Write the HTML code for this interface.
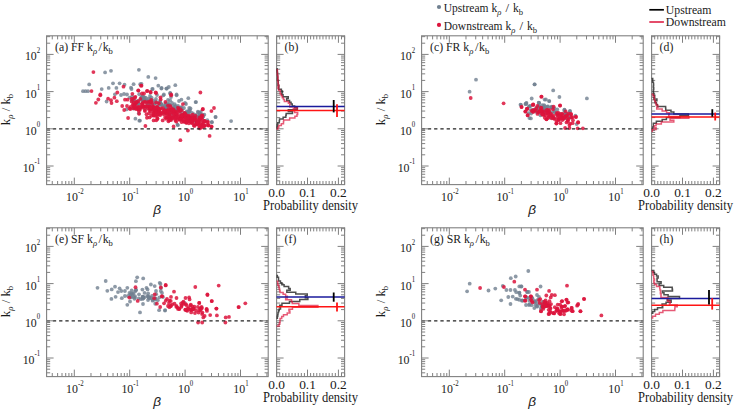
<!DOCTYPE html><html><head><meta charset="utf-8"><style>html,body{margin:0;padding:0;background:#fff;}svg{display:block} text{stroke:none}</style></head><body><svg width="735" height="410" viewBox="0 0 735 410" font-family="'Liberation Serif', serif" fill="#1a1a1a">
<rect width="735" height="410" fill="#fff"/>
<g fill="#708090" fill-opacity="0.8"><circle cx="105.1" cy="72.4" r="1.9"/><circle cx="111" cy="70.8" r="1.9"/><circle cx="138.9" cy="69.8" r="1.9"/><circle cx="89.2" cy="84.4" r="1.9"/><circle cx="113" cy="83.3" r="1.9"/><circle cx="119.6" cy="83.3" r="1.9"/><circle cx="124.5" cy="84.7" r="1.9"/><circle cx="133.6" cy="84.2" r="1.9"/><circle cx="140.2" cy="84.2" r="1.9"/><circle cx="101.7" cy="89.1" r="1.9"/><circle cx="108.7" cy="87.9" r="1.9"/><circle cx="116.4" cy="87.9" r="1.9"/><circle cx="131" cy="87.7" r="1.9"/><circle cx="83" cy="91.2" r="1.9"/><circle cx="85.5" cy="91.2" r="1.9"/><circle cx="88" cy="91.2" r="1.9"/><circle cx="114.9" cy="94.3" r="1.9"/><circle cx="121" cy="95" r="1.9"/><circle cx="124" cy="94" r="1.9"/><circle cx="127" cy="94.5" r="1.9"/><circle cx="131.5" cy="89" r="1.9"/><circle cx="106.6" cy="101.5" r="1.9"/><circle cx="126.6" cy="109.4" r="1.9"/><circle cx="133.9" cy="108.5" r="1.9"/><circle cx="138.8" cy="113.3" r="1.9"/><circle cx="135.4" cy="118.7" r="1.9"/><circle cx="139.3" cy="120.7" r="1.9"/><circle cx="148.3" cy="76.9" r="1.9"/><circle cx="155.6" cy="78.1" r="1.9"/><circle cx="141.5" cy="83.8" r="1.9"/><circle cx="158.3" cy="85.7" r="1.9"/><circle cx="161.6" cy="88" r="1.9"/><circle cx="166.3" cy="88.6" r="1.9"/><circle cx="168.8" cy="87" r="1.9"/><circle cx="175.3" cy="85.2" r="1.9"/><circle cx="152.2" cy="89.1" r="1.9"/><circle cx="163.9" cy="94.5" r="1.9"/><circle cx="170.2" cy="93" r="1.9"/><circle cx="176.6" cy="94.5" r="1.9"/><circle cx="176.6" cy="95.3" r="1.9"/><circle cx="181.4" cy="99.7" r="1.9"/><circle cx="188.3" cy="98.2" r="1.9"/><circle cx="195.6" cy="102.1" r="1.9"/><circle cx="163.4" cy="95.3" r="1.9"/><circle cx="170.2" cy="93.4" r="1.9"/><circle cx="152.7" cy="89" r="1.9"/><circle cx="161.4" cy="88.5" r="1.9"/><circle cx="166.8" cy="88.5" r="1.9"/><circle cx="141.5" cy="96.8" r="1.9"/><circle cx="199.5" cy="112.9" r="1.9"/><circle cx="202.9" cy="116.3" r="1.9"/><circle cx="177.5" cy="124.6" r="1.9"/><circle cx="207.3" cy="120.2" r="1.9"/><circle cx="196" cy="102.1" r="1.9"/><circle cx="199.7" cy="112.9" r="1.9"/><circle cx="202.6" cy="117.2" r="1.9"/><circle cx="215.5" cy="117.1" r="1.9"/><circle cx="231.1" cy="121.1" r="1.9"/><circle cx="211.8" cy="122.1" r="1.9"/><circle cx="177.9" cy="125.2" r="1.9"/><circle cx="211.9" cy="122.2" r="1.9"/><circle cx="215.6" cy="116.9" r="1.9"/><circle cx="202.2" cy="116.9" r="1.9"/><circle cx="140" cy="120.6" r="1.9"/><circle cx="146" cy="98" r="1.9"/><circle cx="150" cy="96" r="1.9"/><circle cx="156" cy="99" r="1.9"/><circle cx="160" cy="101" r="1.9"/><circle cx="168" cy="100" r="1.9"/><circle cx="172" cy="103" r="1.9"/><circle cx="178" cy="106" r="1.9"/><circle cx="184" cy="108" r="1.9"/><circle cx="190" cy="110" r="1.9"/><circle cx="186" cy="104" r="1.9"/><circle cx="179" cy="101" r="1.9"/><circle cx="192" cy="113" r="1.9"/><circle cx="171" cy="97" r="1.9"/><circle cx="157" cy="95" r="1.9"/><circle cx="185" cy="103" r="1.9"/><circle cx="138.8" cy="104.09" r="1.9"/><circle cx="150.24" cy="99.11" r="1.9"/><circle cx="177.52" cy="110" r="1.9"/><circle cx="132.19" cy="100.83" r="1.9"/><circle cx="186.25" cy="115.5" r="1.9"/><circle cx="188.11" cy="112.01" r="1.9"/><circle cx="196.13" cy="114.8" r="1.9"/><circle cx="169.84" cy="111.18" r="1.9"/><circle cx="147.67" cy="101.7" r="1.9"/><circle cx="148.69" cy="98.77" r="1.9"/><circle cx="150.01" cy="102.99" r="1.9"/><circle cx="165.16" cy="106.12" r="1.9"/><circle cx="190.54" cy="108.48" r="1.9"/><circle cx="145.07" cy="108.45" r="1.9"/><circle cx="143.39" cy="98.55" r="1.9"/><circle cx="181.79" cy="114.21" r="1.9"/><circle cx="189.52" cy="111.43" r="1.9"/><circle cx="171.24" cy="113.95" r="1.9"/><circle cx="167.72" cy="106.18" r="1.9"/><circle cx="147.32" cy="103.92" r="1.9"/><circle cx="143.39" cy="96.95" r="1.9"/><circle cx="181.53" cy="107.17" r="1.9"/><circle cx="165.84" cy="107.94" r="1.9"/><circle cx="160.06" cy="104.34" r="1.9"/><circle cx="129.63" cy="97.54" r="1.9"/><circle cx="175" cy="106.72" r="1.9"/><circle cx="167.4" cy="113.59" r="1.9"/><circle cx="169.33" cy="109.42" r="1.9"/><circle cx="167.84" cy="112.06" r="1.9"/><circle cx="167.22" cy="105.73" r="1.9"/><circle cx="200.1" cy="119.81" r="1.9"/><circle cx="188.18" cy="116.86" r="1.9"/><circle cx="189.23" cy="107.98" r="1.9"/><circle cx="163.76" cy="112.96" r="1.9"/><circle cx="174.85" cy="109.57" r="1.9"/><circle cx="168" cy="104.52" r="1.9"/><circle cx="168.44" cy="103.77" r="1.9"/><circle cx="164.9" cy="109.01" r="1.9"/><circle cx="142.62" cy="96.25" r="1.9"/><circle cx="185.26" cy="114.11" r="1.9"/><circle cx="147.69" cy="105.98" r="1.9"/><circle cx="137.97" cy="100.79" r="1.9"/><circle cx="186.71" cy="111.44" r="1.9"/><circle cx="177.11" cy="108.32" r="1.9"/><circle cx="143.17" cy="99.64" r="1.9"/><circle cx="149.31" cy="102.37" r="1.9"/><circle cx="155.02" cy="103.32" r="1.9"/><circle cx="160.16" cy="103.02" r="1.9"/><circle cx="138.35" cy="103.54" r="1.9"/><circle cx="144.63" cy="97.39" r="1.9"/><circle cx="133.61" cy="100.73" r="1.9"/><circle cx="185.78" cy="113.86" r="1.9"/><circle cx="179.87" cy="107.54" r="1.9"/><circle cx="198.97" cy="116.45" r="1.9"/><circle cx="146.3" cy="100.47" r="1.9"/><circle cx="175.56" cy="105.9" r="1.9"/><circle cx="141.19" cy="97.82" r="1.9"/><circle cx="197.93" cy="111.53" r="1.9"/><circle cx="152.89" cy="109.54" r="1.9"/><circle cx="161.92" cy="105.62" r="1.9"/><circle cx="195.32" cy="119.26" r="1.9"/><circle cx="199.81" cy="113.84" r="1.9"/><circle cx="193.16" cy="118.36" r="1.9"/><circle cx="169.54" cy="104.53" r="1.9"/><circle cx="144.77" cy="100.61" r="1.9"/><circle cx="147.64" cy="105.97" r="1.9"/><circle cx="153.1" cy="100.46" r="1.9"/><circle cx="193.72" cy="114.07" r="1.9"/><circle cx="151.52" cy="97.54" r="1.9"/><circle cx="188.84" cy="110.59" r="1.9"/><circle cx="176.05" cy="114.53" r="1.9"/><circle cx="154.45" cy="108.63" r="1.9"/><circle cx="166.39" cy="109.52" r="1.9"/><circle cx="184.23" cy="112.83" r="1.9"/><circle cx="200" cy="115.45" r="1.9"/><circle cx="173.13" cy="110.67" r="1.9"/><circle cx="160.14" cy="102.51" r="1.9"/><circle cx="173.82" cy="116.4" r="1.9"/><circle cx="141.35" cy="99.79" r="1.9"/><circle cx="136.57" cy="104.27" r="1.9"/><circle cx="186.44" cy="113.57" r="1.9"/><circle cx="173.89" cy="109.69" r="1.9"/><circle cx="173.47" cy="108.43" r="1.9"/><circle cx="149.38" cy="106.83" r="1.9"/><circle cx="198.14" cy="112.4" r="1.9"/><circle cx="187.69" cy="112.26" r="1.9"/><circle cx="180.25" cy="111.48" r="1.9"/><circle cx="195.26" cy="116.02" r="1.9"/><circle cx="202.64" cy="114.7" r="1.9"/><circle cx="147.23" cy="101.94" r="1.9"/><circle cx="138.29" cy="103.01" r="1.9"/><circle cx="200" cy="117.24" r="1.9"/><circle cx="150.19" cy="101.38" r="1.9"/><circle cx="178.48" cy="110.13" r="1.9"/><circle cx="204.36" cy="114.72" r="1.9"/><circle cx="164.72" cy="105.63" r="1.9"/><circle cx="195.89" cy="121.88" r="1.9"/><circle cx="142.65" cy="101.65" r="1.9"/><circle cx="200.77" cy="111.92" r="1.9"/><circle cx="181.6" cy="109.51" r="1.9"/><circle cx="154.73" cy="103.91" r="1.9"/><circle cx="151.79" cy="107.39" r="1.9"/><circle cx="174.68" cy="104.06" r="1.9"/><circle cx="161.5" cy="104.05" r="1.9"/><circle cx="151.11" cy="108.48" r="1.9"/><circle cx="155.75" cy="101.49" r="1.9"/><circle cx="172.39" cy="105.93" r="1.9"/><circle cx="134.23" cy="99.36" r="1.9"/><circle cx="171.61" cy="109.2" r="1.9"/><circle cx="180.66" cy="107.61" r="1.9"/><circle cx="166.27" cy="108.31" r="1.9"/><circle cx="166.96" cy="107.42" r="1.9"/><circle cx="202.48" cy="117.2" r="1.9"/><circle cx="200.35" cy="116.66" r="1.9"/><circle cx="139.21" cy="94.19" r="1.9"/><circle cx="152.23" cy="105.24" r="1.9"/><circle cx="197.03" cy="116.8" r="1.9"/><circle cx="192.05" cy="116.31" r="1.9"/><circle cx="188.7" cy="112.88" r="1.9"/><circle cx="145.18" cy="100.09" r="1.9"/><circle cx="181.53" cy="109.33" r="1.9"/><circle cx="135.76" cy="104.81" r="1.9"/><circle cx="170.13" cy="100.46" r="1.9"/><circle cx="165.41" cy="103.47" r="1.9"/><circle cx="150.83" cy="108.23" r="1.9"/><circle cx="161.39" cy="104.41" r="1.9"/><circle cx="158.09" cy="105.88" r="1.9"/><circle cx="148.7" cy="104.83" r="1.9"/><circle cx="159.64" cy="103.3" r="1.9"/><circle cx="132.11" cy="96.29" r="1.9"/></g>
<g fill="#DC143C" fill-opacity="0.85"><circle cx="93.4" cy="72.1" r="1.9"/><circle cx="123.5" cy="86.7" r="1.9"/><circle cx="138.3" cy="90.6" r="1.9"/><circle cx="141" cy="85.7" r="1.9"/><circle cx="91.5" cy="91.1" r="1.9"/><circle cx="117.3" cy="92.5" r="1.9"/><circle cx="100.3" cy="94.5" r="1.9"/><circle cx="100.3" cy="95.3" r="1.9"/><circle cx="98.3" cy="99.5" r="1.9"/><circle cx="95.9" cy="102.8" r="1.9"/><circle cx="108.1" cy="98.7" r="1.9"/><circle cx="111" cy="100.2" r="1.9"/><circle cx="114.4" cy="97.7" r="1.9"/><circle cx="111.5" cy="103.1" r="1.9"/><circle cx="116.8" cy="101.2" r="1.9"/><circle cx="125" cy="99.7" r="1.9"/><circle cx="127.6" cy="99.7" r="1.9"/><circle cx="132.4" cy="93.8" r="1.9"/><circle cx="135.4" cy="96.8" r="1.9"/><circle cx="122.2" cy="106" r="1.9"/><circle cx="127" cy="106" r="1.9"/><circle cx="129.5" cy="108.5" r="1.9"/><circle cx="124.2" cy="110" r="1.9"/><circle cx="138.8" cy="110.9" r="1.9"/><circle cx="128.1" cy="118" r="1.9"/><circle cx="141.5" cy="85.7" r="1.9"/><circle cx="147" cy="91.1" r="1.9"/><circle cx="150.5" cy="92" r="1.9"/><circle cx="156.1" cy="93" r="1.9"/><circle cx="200.4" cy="92.5" r="1.9"/><circle cx="142" cy="93.5" r="1.9"/><circle cx="144" cy="93.5" r="1.9"/><circle cx="171.2" cy="94.5" r="1.9"/><circle cx="202.9" cy="109" r="1.9"/><circle cx="182.9" cy="104.1" r="1.9"/><circle cx="145.4" cy="126" r="1.9"/><circle cx="157.5" cy="118.7" r="1.9"/><circle cx="153.6" cy="115.3" r="1.9"/><circle cx="147.3" cy="90.9" r="1.9"/><circle cx="150.7" cy="92.4" r="1.9"/><circle cx="155.6" cy="92.4" r="1.9"/><circle cx="171.2" cy="95.3" r="1.9"/><circle cx="160.5" cy="97.3" r="1.9"/><circle cx="194.6" cy="124.6" r="1.9"/><circle cx="200.4" cy="126" r="1.9"/><circle cx="204.3" cy="121.1" r="1.9"/><circle cx="207.3" cy="125" r="1.9"/><circle cx="202.6" cy="109.4" r="1.9"/><circle cx="214" cy="108" r="1.9"/><circle cx="211.4" cy="111.1" r="1.9"/><circle cx="201.8" cy="115.3" r="1.9"/><circle cx="204.7" cy="121.1" r="1.9"/><circle cx="207.7" cy="122.1" r="1.9"/><circle cx="204.6" cy="125.5" r="1.9"/><circle cx="208.6" cy="125" r="1.9"/><circle cx="211.6" cy="126.5" r="1.9"/><circle cx="199.4" cy="127.5" r="1.9"/><circle cx="157.4" cy="118.7" r="1.9"/><circle cx="153.7" cy="115.6" r="1.9"/><circle cx="173.6" cy="126.4" r="1.9"/><circle cx="187.9" cy="130.5" r="1.9"/><circle cx="180.4" cy="140.2" r="1.9"/><circle cx="209.6" cy="135.9" r="1.9"/><circle cx="199.9" cy="128.4" r="1.9"/><circle cx="194.5" cy="125.9" r="1.9"/><circle cx="204.4" cy="125.9" r="1.9"/><circle cx="208.4" cy="125.6" r="1.9"/><circle cx="211.5" cy="126.8" r="1.9"/><circle cx="204.6" cy="121.2" r="1.9"/><circle cx="207.8" cy="121.8" r="1.9"/><circle cx="138.3" cy="90.4" r="1.9"/><circle cx="133" cy="99" r="1.9"/><circle cx="136" cy="102" r="1.9"/><circle cx="178.53" cy="110.27" r="1.9"/><circle cx="185.71" cy="117.54" r="1.9"/><circle cx="167.06" cy="113" r="1.9"/><circle cx="168.48" cy="121.34" r="1.9"/><circle cx="149.63" cy="108.01" r="1.9"/><circle cx="134.92" cy="97.76" r="1.9"/><circle cx="137.51" cy="107.78" r="1.9"/><circle cx="149.18" cy="106.52" r="1.9"/><circle cx="154.09" cy="108.31" r="1.9"/><circle cx="170.09" cy="119.77" r="1.9"/><circle cx="199.54" cy="119.73" r="1.9"/><circle cx="150.86" cy="109.51" r="1.9"/><circle cx="186.26" cy="122.74" r="1.9"/><circle cx="184.3" cy="114.45" r="1.9"/><circle cx="141.45" cy="106.85" r="1.9"/><circle cx="198.99" cy="123.07" r="1.9"/><circle cx="146.93" cy="117.76" r="1.9"/><circle cx="136.36" cy="107.79" r="1.9"/><circle cx="176.1" cy="114.59" r="1.9"/><circle cx="197.1" cy="123.57" r="1.9"/><circle cx="189.05" cy="116.78" r="1.9"/><circle cx="156.94" cy="116.07" r="1.9"/><circle cx="201.87" cy="124.13" r="1.9"/><circle cx="161.02" cy="113.57" r="1.9"/><circle cx="147.97" cy="108.36" r="1.9"/><circle cx="144.02" cy="106.61" r="1.9"/><circle cx="173.49" cy="109.43" r="1.9"/><circle cx="147.53" cy="106.55" r="1.9"/><circle cx="149.2" cy="106.03" r="1.9"/><circle cx="176.38" cy="118.03" r="1.9"/><circle cx="200.41" cy="118.44" r="1.9"/><circle cx="189.84" cy="120.06" r="1.9"/><circle cx="158.99" cy="110.14" r="1.9"/><circle cx="191.15" cy="122.8" r="1.9"/><circle cx="169.11" cy="120.24" r="1.9"/><circle cx="202.84" cy="123.7" r="1.9"/><circle cx="174.03" cy="112.4" r="1.9"/><circle cx="156.1" cy="109.97" r="1.9"/><circle cx="162.9" cy="108.27" r="1.9"/><circle cx="156.28" cy="112.15" r="1.9"/><circle cx="164.44" cy="110.22" r="1.9"/><circle cx="144.93" cy="111.03" r="1.9"/><circle cx="171.15" cy="120.09" r="1.9"/><circle cx="167.18" cy="117.46" r="1.9"/><circle cx="192.67" cy="114.67" r="1.9"/><circle cx="203.24" cy="121.22" r="1.9"/><circle cx="174.92" cy="111.47" r="1.9"/><circle cx="131.61" cy="101.38" r="1.9"/><circle cx="157.64" cy="114.51" r="1.9"/><circle cx="181.56" cy="122.02" r="1.9"/><circle cx="163.17" cy="112.45" r="1.9"/><circle cx="175.88" cy="112.96" r="1.9"/><circle cx="172.45" cy="109.19" r="1.9"/><circle cx="184.28" cy="121.54" r="1.9"/><circle cx="188.33" cy="116.43" r="1.9"/><circle cx="145.42" cy="106.4" r="1.9"/><circle cx="172.87" cy="117.98" r="1.9"/><circle cx="165.56" cy="111.23" r="1.9"/><circle cx="165.21" cy="112.81" r="1.9"/><circle cx="155.67" cy="109.65" r="1.9"/><circle cx="166.06" cy="118.75" r="1.9"/><circle cx="156.9" cy="108.73" r="1.9"/><circle cx="149.28" cy="110.02" r="1.9"/><circle cx="151.39" cy="115.76" r="1.9"/><circle cx="170.01" cy="109.93" r="1.9"/><circle cx="186.3" cy="119.87" r="1.9"/><circle cx="180.61" cy="118.02" r="1.9"/><circle cx="177.08" cy="115.44" r="1.9"/><circle cx="138.69" cy="109.21" r="1.9"/><circle cx="159.2" cy="111.57" r="1.9"/><circle cx="181.17" cy="117.26" r="1.9"/><circle cx="194.41" cy="118.39" r="1.9"/><circle cx="158.1" cy="111.96" r="1.9"/><circle cx="143.01" cy="105.64" r="1.9"/><circle cx="202.56" cy="115.76" r="1.9"/><circle cx="182.18" cy="114.98" r="1.9"/><circle cx="169.33" cy="114.68" r="1.9"/><circle cx="184.79" cy="113.06" r="1.9"/><circle cx="144.46" cy="106.91" r="1.9"/><circle cx="153.6" cy="112.62" r="1.9"/><circle cx="166.76" cy="114.72" r="1.9"/><circle cx="131.63" cy="98.83" r="1.9"/><circle cx="146.5" cy="114.25" r="1.9"/><circle cx="188.83" cy="123.31" r="1.9"/><circle cx="154.21" cy="111.01" r="1.9"/><circle cx="181.7" cy="119.55" r="1.9"/><circle cx="167.04" cy="110.87" r="1.9"/><circle cx="144.92" cy="110.09" r="1.9"/><circle cx="175.45" cy="115.78" r="1.9"/><circle cx="151.73" cy="102.04" r="1.9"/><circle cx="203.61" cy="126.56" r="1.9"/><circle cx="194.35" cy="118.27" r="1.9"/><circle cx="171.41" cy="117.79" r="1.9"/><circle cx="193.06" cy="120.07" r="1.9"/><circle cx="196.78" cy="122.21" r="1.9"/><circle cx="179.22" cy="119.38" r="1.9"/><circle cx="140.37" cy="98.9" r="1.9"/><circle cx="196.28" cy="121.45" r="1.9"/><circle cx="191.75" cy="121.8" r="1.9"/><circle cx="138.82" cy="106.93" r="1.9"/><circle cx="173.51" cy="115.22" r="1.9"/><circle cx="189.99" cy="117.73" r="1.9"/><circle cx="175.54" cy="120.71" r="1.9"/><circle cx="149.5" cy="117.41" r="1.9"/><circle cx="175.35" cy="111.36" r="1.9"/><circle cx="170.84" cy="112.52" r="1.9"/><circle cx="156.55" cy="107.69" r="1.9"/><circle cx="195.57" cy="115.91" r="1.9"/><circle cx="178.88" cy="116.64" r="1.9"/><circle cx="190.36" cy="117.54" r="1.9"/><circle cx="139.1" cy="113.82" r="1.9"/><circle cx="192.45" cy="120.82" r="1.9"/><circle cx="189.68" cy="115.68" r="1.9"/><circle cx="202.49" cy="125.02" r="1.9"/><circle cx="163.89" cy="114.54" r="1.9"/><circle cx="181.35" cy="117.37" r="1.9"/><circle cx="170.27" cy="119.33" r="1.9"/><circle cx="136.68" cy="109.19" r="1.9"/><circle cx="184.44" cy="116.53" r="1.9"/><circle cx="184.28" cy="120.79" r="1.9"/><circle cx="152.91" cy="106.46" r="1.9"/><circle cx="172.31" cy="112.11" r="1.9"/><circle cx="186.45" cy="122.6" r="1.9"/><circle cx="135.85" cy="103.48" r="1.9"/><circle cx="198.4" cy="120.8" r="1.9"/><circle cx="180.24" cy="109.06" r="1.9"/><circle cx="191.79" cy="118.66" r="1.9"/><circle cx="156.99" cy="108.47" r="1.9"/><circle cx="155.01" cy="108.83" r="1.9"/><circle cx="188.03" cy="117.17" r="1.9"/><circle cx="153.24" cy="106.94" r="1.9"/><circle cx="184.6" cy="113.27" r="1.9"/><circle cx="139.94" cy="109.85" r="1.9"/><circle cx="156.31" cy="120.29" r="1.9"/><circle cx="162.7" cy="120.38" r="1.9"/><circle cx="196.61" cy="124.05" r="1.9"/><circle cx="196.29" cy="121.19" r="1.9"/><circle cx="165.42" cy="101.99" r="1.9"/><circle cx="184.02" cy="116.6" r="1.9"/><circle cx="155.45" cy="115.86" r="1.9"/><circle cx="160.71" cy="99.44" r="1.9"/><circle cx="169.88" cy="114.5" r="1.9"/><circle cx="178.49" cy="108.95" r="1.9"/><circle cx="145.19" cy="101.58" r="1.9"/><circle cx="135.12" cy="108.56" r="1.9"/><circle cx="150.4" cy="111.21" r="1.9"/><circle cx="176.03" cy="113.77" r="1.9"/><circle cx="133" cy="108.47" r="1.9"/><circle cx="142.33" cy="107.72" r="1.9"/><circle cx="154.37" cy="114.13" r="1.9"/><circle cx="149.05" cy="113.34" r="1.9"/><circle cx="191.83" cy="122.32" r="1.9"/><circle cx="177.99" cy="107.53" r="1.9"/><circle cx="184.6" cy="117.59" r="1.9"/><circle cx="204.21" cy="121.89" r="1.9"/><circle cx="182.11" cy="118.07" r="1.9"/><circle cx="167.98" cy="105.54" r="1.9"/><circle cx="187.8" cy="117.66" r="1.9"/><circle cx="192.43" cy="117.48" r="1.9"/><circle cx="151.7" cy="109.04" r="1.9"/><circle cx="142.71" cy="103.5" r="1.9"/><circle cx="184.04" cy="121.86" r="1.9"/><circle cx="171.02" cy="109.55" r="1.9"/><circle cx="165.12" cy="117.71" r="1.9"/><circle cx="158.65" cy="108.51" r="1.9"/><circle cx="151.98" cy="103.67" r="1.9"/><circle cx="170.02" cy="116.08" r="1.9"/><circle cx="176.38" cy="121.66" r="1.9"/><circle cx="172.84" cy="111.3" r="1.9"/><circle cx="196.53" cy="124.36" r="1.9"/><circle cx="193.83" cy="125.54" r="1.9"/><circle cx="158.86" cy="103.27" r="1.9"/><circle cx="154.99" cy="110.38" r="1.9"/><circle cx="154.9" cy="107.79" r="1.9"/><circle cx="156.14" cy="109.41" r="1.9"/><circle cx="146.5" cy="106.59" r="1.9"/><circle cx="179.86" cy="111.31" r="1.9"/><circle cx="148.57" cy="101.66" r="1.9"/><circle cx="181.87" cy="110.63" r="1.9"/><circle cx="163.26" cy="111.45" r="1.9"/><circle cx="200.06" cy="121.26" r="1.9"/><circle cx="139.14" cy="109.19" r="1.9"/><circle cx="134.19" cy="104.4" r="1.9"/><circle cx="201.39" cy="117.49" r="1.9"/><circle cx="192.33" cy="123" r="1.9"/><circle cx="201.93" cy="118.73" r="1.9"/><circle cx="153.62" cy="120.44" r="1.9"/><circle cx="136.85" cy="102.07" r="1.9"/><circle cx="180.1" cy="118.23" r="1.9"/><circle cx="150.84" cy="101.47" r="1.9"/><circle cx="189.66" cy="120.68" r="1.9"/><circle cx="138.26" cy="101.27" r="1.9"/><circle cx="151.31" cy="100.01" r="1.9"/><circle cx="137.72" cy="107.25" r="1.9"/><circle cx="157.54" cy="112.95" r="1.9"/><circle cx="170.16" cy="105.84" r="1.9"/><circle cx="204.68" cy="121.1" r="1.9"/><circle cx="194.92" cy="118.18" r="1.9"/><circle cx="187.4" cy="115.69" r="1.9"/><circle cx="130.42" cy="109.04" r="1.9"/><circle cx="197.26" cy="123.03" r="1.9"/><circle cx="170.75" cy="107.23" r="1.9"/><circle cx="193.04" cy="119.68" r="1.9"/><circle cx="182.11" cy="115.11" r="1.9"/><circle cx="143.25" cy="102.24" r="1.9"/><circle cx="199.51" cy="117.52" r="1.9"/><circle cx="141.69" cy="103.86" r="1.9"/><circle cx="182.14" cy="116.26" r="1.9"/><circle cx="157.25" cy="106.56" r="1.9"/><circle cx="177.98" cy="118.18" r="1.9"/><circle cx="180.52" cy="115.27" r="1.9"/><circle cx="151.18" cy="107.41" r="1.9"/><circle cx="188.13" cy="121.05" r="1.9"/><circle cx="167.02" cy="111.6" r="1.9"/><circle cx="141.08" cy="106.48" r="1.9"/><circle cx="166.92" cy="112" r="1.9"/><circle cx="181.31" cy="116.7" r="1.9"/><circle cx="170.08" cy="117.17" r="1.9"/><circle cx="130.52" cy="106.89" r="1.9"/><circle cx="175.67" cy="117.38" r="1.9"/><circle cx="179.52" cy="119.63" r="1.9"/><circle cx="173.86" cy="113.87" r="1.9"/><circle cx="155.31" cy="111.74" r="1.9"/><circle cx="185.65" cy="117.56" r="1.9"/><circle cx="134.72" cy="105.14" r="1.9"/><circle cx="153.83" cy="109.33" r="1.9"/><circle cx="133.82" cy="106.82" r="1.9"/><circle cx="197" cy="119.47" r="1.9"/><circle cx="181.99" cy="115.57" r="1.9"/><circle cx="152.96" cy="113.28" r="1.9"/><circle cx="185.63" cy="114.55" r="1.9"/><circle cx="172.79" cy="117.55" r="1.9"/><circle cx="177.88" cy="112.91" r="1.9"/><circle cx="170.8" cy="110.12" r="1.9"/><circle cx="193.68" cy="117.7" r="1.9"/><circle cx="133.87" cy="102.76" r="1.9"/><circle cx="146.71" cy="102.99" r="1.9"/><circle cx="150.74" cy="107.72" r="1.9"/><circle cx="165.15" cy="110.65" r="1.9"/><circle cx="155.27" cy="107.43" r="1.9"/><circle cx="167.15" cy="117.18" r="1.9"/><circle cx="180.3" cy="119.45" r="1.9"/><circle cx="183.49" cy="120.86" r="1.9"/><circle cx="139.39" cy="108.65" r="1.9"/><circle cx="189.92" cy="121.01" r="1.9"/><circle cx="198.12" cy="123.33" r="1.9"/><circle cx="158.32" cy="108.59" r="1.9"/><circle cx="176.84" cy="113.99" r="1.9"/><circle cx="188.16" cy="118.21" r="1.9"/><circle cx="198.12" cy="124.79" r="1.9"/><circle cx="156.21" cy="102.46" r="1.9"/><circle cx="160.96" cy="112.98" r="1.9"/><circle cx="160.08" cy="115.16" r="1.9"/><circle cx="174.99" cy="118.97" r="1.9"/><circle cx="132.66" cy="104.65" r="1.9"/><circle cx="133.77" cy="106.25" r="1.9"/><circle cx="168.4" cy="110.91" r="1.9"/><circle cx="200.22" cy="125.1" r="1.9"/><circle cx="187.15" cy="119.67" r="1.9"/><circle cx="191.53" cy="119" r="1.9"/><circle cx="159.09" cy="114.1" r="1.9"/><circle cx="200.66" cy="118.19" r="1.9"/><circle cx="149.81" cy="102.34" r="1.9"/><circle cx="187.06" cy="121.48" r="1.9"/><circle cx="161.09" cy="108.35" r="1.9"/><circle cx="159.58" cy="109.76" r="1.9"/><circle cx="168.97" cy="118.79" r="1.9"/><circle cx="197.57" cy="122.23" r="1.9"/><circle cx="168.3" cy="109.03" r="1.9"/><circle cx="201.76" cy="127.47" r="1.9"/></g>
<line x1="46.6" y1="128.8" x2="268.2" y2="128.8" stroke="#222" stroke-width="1.2" stroke-dasharray="3.3,2.96"/>
<rect x="46.6" y="35.8" width="221.6" height="148.8" fill="none" stroke="#808080" stroke-width="1.1"/>
<path d="M46.6 180.8h3.6M268.2 180.8h-3.6M46.6 177.2h3.6M268.2 177.2h-3.6M46.6 174.25h3.6M268.2 174.25h-3.6M46.6 171.76h3.6M268.2 171.76h-3.6M46.6 169.61h3.6M268.2 169.61h-3.6M46.6 167.7h3.6M268.2 167.7h-3.6M46.6 166h7.0M268.2 166h-7.0M46.6 154.8h3.6M268.2 154.8h-3.6M46.6 148.25h3.6M268.2 148.25h-3.6M46.6 143.6h3.6M268.2 143.6h-3.6M46.6 140h3.6M268.2 140h-3.6M46.6 137.05h3.6M268.2 137.05h-3.6M46.6 134.56h3.6M268.2 134.56h-3.6M46.6 132.41h3.6M268.2 132.41h-3.6M46.6 130.5h3.6M268.2 130.5h-3.6M46.6 128.8h7.0M268.2 128.8h-7.0M46.6 117.6h3.6M268.2 117.6h-3.6M46.6 111.05h3.6M268.2 111.05h-3.6M46.6 106.4h3.6M268.2 106.4h-3.6M46.6 102.8h3.6M268.2 102.8h-3.6M46.6 99.85h3.6M268.2 99.85h-3.6M46.6 97.36h3.6M268.2 97.36h-3.6M46.6 95.21h3.6M268.2 95.21h-3.6M46.6 93.3h3.6M268.2 93.3h-3.6M46.6 91.6h7.0M268.2 91.6h-7.0M46.6 80.4h3.6M268.2 80.4h-3.6M46.6 73.85h3.6M268.2 73.85h-3.6M46.6 69.2h3.6M268.2 69.2h-3.6M46.6 65.6h3.6M268.2 65.6h-3.6M46.6 62.65h3.6M268.2 62.65h-3.6M46.6 60.16h3.6M268.2 60.16h-3.6M46.6 58.01h3.6M268.2 58.01h-3.6M46.6 56.1h3.6M268.2 56.1h-3.6M46.6 54.4h7.0M268.2 54.4h-7.0M46.6 43.2h3.6M268.2 43.2h-3.6M46.6 36.65h3.6M268.2 36.65h-3.6M52.25 184.6v-3.6M52.25 35.8v3.6M57.62 184.6v-3.6M57.62 35.8v3.6M62.01 184.6v-3.6M62.01 35.8v3.6M65.72 184.6v-3.6M65.72 35.8v3.6M68.93 184.6v-3.6M68.93 35.8v3.6M71.77 184.6v-3.6M71.77 35.8v3.6M74.3 184.6v-7.0M74.3 35.8v7.0M90.98 184.6v-3.6M90.98 35.8v3.6M100.73 184.6v-3.6M100.73 35.8v3.6M107.65 184.6v-3.6M107.65 35.8v3.6M113.02 184.6v-3.6M113.02 35.8v3.6M117.41 184.6v-3.6M117.41 35.8v3.6M121.12 184.6v-3.6M121.12 35.8v3.6M124.33 184.6v-3.6M124.33 35.8v3.6M127.17 184.6v-3.6M127.17 35.8v3.6M129.7 184.6v-7.0M129.7 35.8v7.0M146.38 184.6v-3.6M146.38 35.8v3.6M156.13 184.6v-3.6M156.13 35.8v3.6M163.05 184.6v-3.6M163.05 35.8v3.6M168.42 184.6v-3.6M168.42 35.8v3.6M172.81 184.6v-3.6M172.81 35.8v3.6M176.52 184.6v-3.6M176.52 35.8v3.6M179.73 184.6v-3.6M179.73 35.8v3.6M182.57 184.6v-3.6M182.57 35.8v3.6M185.1 184.6v-7.0M185.1 35.8v7.0M201.78 184.6v-3.6M201.78 35.8v3.6M211.53 184.6v-3.6M211.53 35.8v3.6M218.45 184.6v-3.6M218.45 35.8v3.6M223.82 184.6v-3.6M223.82 35.8v3.6M228.21 184.6v-3.6M228.21 35.8v3.6M231.92 184.6v-3.6M231.92 35.8v3.6M235.13 184.6v-3.6M235.13 35.8v3.6M237.97 184.6v-3.6M237.97 35.8v3.6M240.5 184.6v-7.0M240.5 35.8v7.0M257.18 184.6v-3.6M257.18 35.8v3.6M266.93 184.6v-3.6M266.93 35.8v3.6" fill="none" stroke="#808080" stroke-width="1"/>
<rect x="276.6" y="35.8" width="68" height="148.8" fill="none" stroke="#808080" stroke-width="1.1"/>
<path d="M276.6 180.8h3.6M344.6 180.8h-3.6M276.6 177.2h3.6M344.6 177.2h-3.6M276.6 174.25h3.6M344.6 174.25h-3.6M276.6 171.76h3.6M344.6 171.76h-3.6M276.6 169.61h3.6M344.6 169.61h-3.6M276.6 167.7h3.6M344.6 167.7h-3.6M276.6 166h7.0M344.6 166h-7.0M276.6 154.8h3.6M344.6 154.8h-3.6M276.6 148.25h3.6M344.6 148.25h-3.6M276.6 143.6h3.6M344.6 143.6h-3.6M276.6 140h3.6M344.6 140h-3.6M276.6 137.05h3.6M344.6 137.05h-3.6M276.6 134.56h3.6M344.6 134.56h-3.6M276.6 132.41h3.6M344.6 132.41h-3.6M276.6 130.5h3.6M344.6 130.5h-3.6M276.6 128.8h7.0M344.6 128.8h-7.0M276.6 117.6h3.6M344.6 117.6h-3.6M276.6 111.05h3.6M344.6 111.05h-3.6M276.6 106.4h3.6M344.6 106.4h-3.6M276.6 102.8h3.6M344.6 102.8h-3.6M276.6 99.85h3.6M344.6 99.85h-3.6M276.6 97.36h3.6M344.6 97.36h-3.6M276.6 95.21h3.6M344.6 95.21h-3.6M276.6 93.3h3.6M344.6 93.3h-3.6M276.6 91.6h7.0M344.6 91.6h-7.0M276.6 80.4h3.6M344.6 80.4h-3.6M276.6 73.85h3.6M344.6 73.85h-3.6M276.6 69.2h3.6M344.6 69.2h-3.6M276.6 65.6h3.6M344.6 65.6h-3.6M276.6 62.65h3.6M344.6 62.65h-3.6M276.6 60.16h3.6M344.6 60.16h-3.6M276.6 58.01h3.6M344.6 58.01h-3.6M276.6 56.1h3.6M344.6 56.1h-3.6M276.6 54.4h7.0M344.6 54.4h-7.0M276.6 43.2h3.6M344.6 43.2h-3.6M276.6 36.65h3.6M344.6 36.65h-3.6M276.6 184.6v-7.0M276.6 35.8v7.0M279.69 184.6v-3.6M279.69 35.8v3.6M282.78 184.6v-3.6M282.78 35.8v3.6M285.87 184.6v-3.6M285.87 35.8v3.6M288.96 184.6v-3.6M288.96 35.8v3.6M292.05 184.6v-3.6M292.05 35.8v3.6M295.15 184.6v-3.6M295.15 35.8v3.6M298.24 184.6v-3.6M298.24 35.8v3.6M301.33 184.6v-3.6M301.33 35.8v3.6M304.42 184.6v-3.6M304.42 35.8v3.6M307.51 184.6v-7.0M307.51 35.8v7.0M310.6 184.6v-3.6M310.6 35.8v3.6M313.69 184.6v-3.6M313.69 35.8v3.6M316.78 184.6v-3.6M316.78 35.8v3.6M319.87 184.6v-3.6M319.87 35.8v3.6M322.96 184.6v-3.6M322.96 35.8v3.6M326.05 184.6v-3.6M326.05 35.8v3.6M329.15 184.6v-3.6M329.15 35.8v3.6M332.24 184.6v-3.6M332.24 35.8v3.6M335.33 184.6v-3.6M335.33 35.8v3.6M338.42 184.6v-7.0M338.42 35.8v7.0M341.51 184.6v-3.6M341.51 35.8v3.6M344.6 184.6v-3.6M344.6 35.8v3.6" fill="none" stroke="#808080" stroke-width="1"/>
<path d="M276.60 68.78H277.07V70.64H277.27V72.50H277.50V74.36H277.54V76.22H277.63V78.08H277.51V79.94H278.11V81.80H278.26V83.66H278.01V85.52H278.89V87.38H278.61V89.24H281.39V91.10H282.41V92.96H281.55V94.82H283.06V96.68H288.27V98.54H286.65V100.40H289.57V102.26H291.06V104.12H292.24V105.98H294.61V107.84H297.29V109.70H288.32V111.56H292.43V113.42H286.17V115.28H285.83V117.14H283.14V119.00H279.52V120.86H279.29V122.72H277.79V124.58H277.31V126.44H277.14V128.30H276.60" fill="none" stroke="#222" stroke-opacity="0.8" stroke-width="1.5"/>
<path d="M276.60 69.76H277.38V71.62H277.42V73.48H277.32V75.34H277.89V77.20H278.11V79.06H277.66V80.92H277.98V82.78H278.31V84.64H278.77V86.50H277.95V88.36H278.63V90.22H280.13V92.08H280.21V93.94H281.27V95.80H282.26V97.66H283.40V99.52H284.36V101.38H288.39V103.24H289.81V105.10H289.79V106.96H297.40V108.82H293.35V110.68H294.56V112.54H297.66V114.40H296.97V116.26H294.90V118.12H289.65V119.98H283.66V121.84H283.47V123.70H281.32V125.56H278.77V127.42H277.81V129.28H276.60" fill="none" stroke="#DC143C" stroke-opacity="0.7" stroke-width="1.5"/>
<line x1="276.6" y1="106.5" x2="344.6" y2="106.5" stroke="#1a1a9c" stroke-width="1.5"/>
<line x1="276.6" y1="110.4" x2="344.6" y2="110.4" stroke="#ff1414" stroke-width="1.5"/>
<line x1="333.7" y1="100" x2="333.7" y2="112.4" stroke="#000" stroke-width="1.8"/>
<line x1="337" y1="104.2" x2="337" y2="116.9" stroke="#ff1414" stroke-width="1.8"/>
<text transform="translate(40.2,60.4) scale(0.9,1)" font-size="13.2" text-anchor="end">10<tspan font-size="7.6" dy="-7.6">2</tspan></text>
<text transform="translate(40.2,97.6) scale(0.9,1)" font-size="13.2" text-anchor="end">10<tspan font-size="7.6" dy="-7.6">1</tspan></text>
<text transform="translate(40.2,134.8) scale(0.9,1)" font-size="13.2" text-anchor="end">10<tspan font-size="7.6" dy="-7.6">0</tspan></text>
<text transform="translate(40.2,172) scale(0.9,1)" font-size="13.2" text-anchor="end">10<tspan font-size="7.6" dy="-7.6">-1</tspan></text>
<text transform="translate(74.8,201.4) scale(0.9,1)" font-size="13.2" text-anchor="middle">10<tspan font-size="7.6" dy="-7.6">-2</tspan></text>
<text transform="translate(130.2,201.4) scale(0.9,1)" font-size="13.2" text-anchor="middle">10<tspan font-size="7.6" dy="-7.6">-1</tspan></text>
<text transform="translate(185.6,201.4) scale(0.9,1)" font-size="13.2" text-anchor="middle">10<tspan font-size="7.6" dy="-7.6">0</tspan></text>
<text transform="translate(241,201.4) scale(0.9,1)" font-size="13.2" text-anchor="middle">10<tspan font-size="7.6" dy="-7.6">1</tspan></text>
<text x="276.6" y="197.2" font-size="13.4" text-anchor="middle" >0.0</text>
<text x="307.51" y="197.2" font-size="13.4" text-anchor="middle" >0.1</text>
<text x="338.42" y="197.2" font-size="13.4" text-anchor="middle" >0.2</text>
<text x="157.2" y="214.2" font-size="13.6" text-anchor="middle" font-family="Liberation Sans" font-style="italic" style="stroke-width:0.45px">β</text>
<text x="310.6" y="209.8" font-size="14" text-anchor="middle" textLength="95" lengthAdjust="spacingAndGlyphs">Probability density</text>
<text transform="translate(10.2,109.5) rotate(-90)" font-size="12.8" text-anchor="middle">k<tspan font-size="8.8" dy="3.2" font-style="italic">ρ</tspan><tspan dy="-3.2"> / k</tspan><tspan font-size="8.8" dy="3.2">b</tspan></text>
<text transform="translate(55,51) scale(0.95,1)" font-size="12.4">(a) FF k<tspan font-size="9.2" dy="2.6" font-style="italic">ρ</tspan><tspan dy="-2.6" dx="1.6" font-size="13.4">/</tspan><tspan dx="0.6">k</tspan><tspan font-size="9" dy="2.6">b</tspan></text>
<text transform="translate(284.6,50.8) scale(0.95,1)" font-size="12.4">(b)</text>
<g fill="#708090" fill-opacity="0.8"><circle cx="476" cy="79.7" r="1.9"/><circle cx="469.6" cy="91.7" r="1.9"/><circle cx="534.7" cy="84.3" r="1.9"/><circle cx="531.7" cy="98.5" r="1.9"/><circle cx="539.1" cy="102.9" r="1.9"/><circle cx="521" cy="104.9" r="1.9"/><circle cx="525.9" cy="104" r="1.9"/><circle cx="544.6" cy="99.6" r="1.9"/><circle cx="534.5" cy="84.4" r="1.9"/><circle cx="553.2" cy="90.4" r="1.9"/><circle cx="559.4" cy="97" r="1.9"/><circle cx="586.9" cy="98.4" r="1.9"/><circle cx="545.9" cy="99.5" r="1.9"/><circle cx="549.3" cy="101.1" r="1.9"/><circle cx="538.9" cy="103" r="1.9"/><circle cx="520.5" cy="104.7" r="1.9"/><circle cx="525.4" cy="104.1" r="1.9"/><circle cx="526.5" cy="103" r="1.9"/><circle cx="544.1" cy="105.2" r="1.9"/><circle cx="548" cy="106.3" r="1.9"/><circle cx="551" cy="107.5" r="1.9"/><circle cx="554.5" cy="108.5" r="1.9"/><circle cx="564.4" cy="109.6" r="1.9"/><circle cx="569.9" cy="111.3" r="1.9"/><circle cx="530.9" cy="118.4" r="1.9"/><circle cx="575.4" cy="115.7" r="1.9"/><circle cx="570" cy="111" r="1.9"/><circle cx="576.6" cy="124.1" r="1.9"/><circle cx="564.5" cy="109.9" r="1.9"/><circle cx="529.4" cy="118.1" r="1.9"/><circle cx="538.7" cy="102.7" r="1.9"/><circle cx="549.1" cy="101.1" r="1.9"/><circle cx="526.1" cy="103.3" r="1.9"/><circle cx="551.3" cy="107.1" r="1.9"/><circle cx="544.8" cy="110.4" r="1.9"/><circle cx="536.94" cy="110.89" r="1.9"/><circle cx="557.14" cy="114.97" r="1.9"/><circle cx="570.74" cy="117.08" r="1.9"/><circle cx="547.28" cy="106.61" r="1.9"/><circle cx="535.03" cy="109.74" r="1.9"/><circle cx="537.68" cy="111.84" r="1.9"/><circle cx="543.39" cy="113" r="1.9"/><circle cx="538.78" cy="108.12" r="1.9"/><circle cx="529.22" cy="106.17" r="1.9"/><circle cx="557.24" cy="109.5" r="1.9"/><circle cx="544.68" cy="106.25" r="1.9"/><circle cx="552.08" cy="112.23" r="1.9"/><circle cx="565.97" cy="113.4" r="1.9"/><circle cx="564.34" cy="111.05" r="1.9"/><circle cx="565.14" cy="114.04" r="1.9"/><circle cx="565.75" cy="118.22" r="1.9"/><circle cx="529.06" cy="106.76" r="1.9"/><circle cx="564.06" cy="117.46" r="1.9"/><circle cx="537.99" cy="111.41" r="1.9"/><circle cx="550.53" cy="117.75" r="1.9"/><circle cx="547.21" cy="110.05" r="1.9"/><circle cx="538.02" cy="112.34" r="1.9"/><circle cx="539.71" cy="106.63" r="1.9"/><circle cx="560.69" cy="115.74" r="1.9"/><circle cx="546.6" cy="112.74" r="1.9"/><circle cx="570.27" cy="117.27" r="1.9"/><circle cx="540.44" cy="115.3" r="1.9"/><circle cx="543.72" cy="111.63" r="1.9"/><circle cx="538.55" cy="106.29" r="1.9"/><circle cx="544.06" cy="107.88" r="1.9"/><circle cx="532.34" cy="109.79" r="1.9"/><circle cx="551.9" cy="106.73" r="1.9"/><circle cx="543.05" cy="108.2" r="1.9"/><circle cx="530.67" cy="110.03" r="1.9"/><circle cx="542.18" cy="105.07" r="1.9"/><circle cx="542.2" cy="110.2" r="1.9"/><circle cx="565.48" cy="115.83" r="1.9"/><circle cx="528.61" cy="113.19" r="1.9"/><circle cx="567.02" cy="114.24" r="1.9"/><circle cx="567.11" cy="114.49" r="1.9"/><circle cx="552.5" cy="107.7" r="1.9"/><circle cx="536.09" cy="111.86" r="1.9"/><circle cx="547.87" cy="113.14" r="1.9"/><circle cx="554.98" cy="112.18" r="1.9"/><circle cx="545.05" cy="108.6" r="1.9"/><circle cx="536.32" cy="107.64" r="1.9"/><circle cx="554.52" cy="111.8" r="1.9"/><circle cx="530.52" cy="106.01" r="1.9"/><circle cx="531.11" cy="113.62" r="1.9"/><circle cx="547.07" cy="110.11" r="1.9"/></g>
<g fill="#DC143C" fill-opacity="0.85"><circle cx="470.7" cy="98" r="1.9"/><circle cx="503.6" cy="103.3" r="1.9"/><circle cx="541.6" cy="96.7" r="1.9"/><circle cx="521.5" cy="107.1" r="1.9"/><circle cx="533" cy="104.9" r="1.9"/><circle cx="527" cy="108.6" r="1.9"/><circle cx="525.4" cy="111.7" r="1.9"/><circle cx="541.3" cy="96.7" r="1.9"/><circle cx="521.6" cy="106.9" r="1.9"/><circle cx="533.1" cy="104.7" r="1.9"/><circle cx="560" cy="105.6" r="1.9"/><circle cx="527.6" cy="115.1" r="1.9"/><circle cx="525.4" cy="111.3" r="1.9"/><circle cx="527.1" cy="108.8" r="1.9"/><circle cx="571" cy="114" r="1.9"/><circle cx="575.9" cy="116.8" r="1.9"/><circle cx="578.1" cy="122.2" r="1.9"/><circle cx="556.5" cy="123.3" r="1.9"/><circle cx="565.1" cy="128" r="1.9"/><circle cx="569.4" cy="128" r="1.9"/><circle cx="577.7" cy="128.3" r="1.9"/><circle cx="582.9" cy="128.3" r="1.9"/><circle cx="556.3" cy="123.6" r="1.9"/><circle cx="578.2" cy="122.5" r="1.9"/><circle cx="576" cy="117" r="1.9"/><circle cx="571.1" cy="114.3" r="1.9"/><circle cx="560.1" cy="105.5" r="1.9"/><circle cx="527.7" cy="115.4" r="1.9"/><circle cx="533.2" cy="104.4" r="1.9"/><circle cx="527.2" cy="108.8" r="1.9"/><circle cx="541.4" cy="107.98" r="1.9"/><circle cx="558.34" cy="120.43" r="1.9"/><circle cx="563.86" cy="118.87" r="1.9"/><circle cx="572.94" cy="120.16" r="1.9"/><circle cx="554.04" cy="118.36" r="1.9"/><circle cx="567.77" cy="121.18" r="1.9"/><circle cx="556.42" cy="121.12" r="1.9"/><circle cx="543.43" cy="114.06" r="1.9"/><circle cx="546.41" cy="119.14" r="1.9"/><circle cx="547.82" cy="112.23" r="1.9"/><circle cx="561.56" cy="116.03" r="1.9"/><circle cx="558.92" cy="118.94" r="1.9"/><circle cx="548.12" cy="110.75" r="1.9"/><circle cx="552.25" cy="116.63" r="1.9"/><circle cx="534.09" cy="110.49" r="1.9"/><circle cx="551.87" cy="118.37" r="1.9"/><circle cx="547.16" cy="111.53" r="1.9"/><circle cx="556.76" cy="114.09" r="1.9"/><circle cx="553" cy="109.36" r="1.9"/><circle cx="562.29" cy="117.92" r="1.9"/><circle cx="562.56" cy="114.13" r="1.9"/><circle cx="543.84" cy="114.74" r="1.9"/><circle cx="545.23" cy="111.15" r="1.9"/><circle cx="570.05" cy="123.65" r="1.9"/><circle cx="536.38" cy="108.4" r="1.9"/><circle cx="537.33" cy="105.98" r="1.9"/><circle cx="567.91" cy="120.06" r="1.9"/><circle cx="554.47" cy="118.91" r="1.9"/><circle cx="546.54" cy="119.37" r="1.9"/><circle cx="564.92" cy="117.23" r="1.9"/><circle cx="562.35" cy="119.98" r="1.9"/><circle cx="557.89" cy="115.08" r="1.9"/><circle cx="549.07" cy="112.07" r="1.9"/><circle cx="535.62" cy="110.75" r="1.9"/><circle cx="541.2" cy="111.56" r="1.9"/><circle cx="548.89" cy="114.69" r="1.9"/><circle cx="542.87" cy="111.83" r="1.9"/><circle cx="562.62" cy="118.23" r="1.9"/><circle cx="550.93" cy="115.19" r="1.9"/><circle cx="558.46" cy="112.9" r="1.9"/><circle cx="562.03" cy="113.97" r="1.9"/><circle cx="569.43" cy="125.1" r="1.9"/><circle cx="539.98" cy="110.14" r="1.9"/><circle cx="538.87" cy="111.8" r="1.9"/><circle cx="566.19" cy="115.9" r="1.9"/><circle cx="548.13" cy="117.77" r="1.9"/><circle cx="566.53" cy="122.41" r="1.9"/><circle cx="571.47" cy="117.53" r="1.9"/><circle cx="565.61" cy="116.29" r="1.9"/><circle cx="559.66" cy="115.44" r="1.9"/><circle cx="565.67" cy="111.51" r="1.9"/><circle cx="553.15" cy="117.69" r="1.9"/><circle cx="540.9" cy="107.74" r="1.9"/><circle cx="564.34" cy="117.48" r="1.9"/><circle cx="548.76" cy="116.75" r="1.9"/><circle cx="572.38" cy="117.27" r="1.9"/><circle cx="559.61" cy="119" r="1.9"/><circle cx="538.52" cy="112.13" r="1.9"/><circle cx="537.49" cy="113.93" r="1.9"/><circle cx="557.35" cy="117.71" r="1.9"/><circle cx="572.63" cy="123.15" r="1.9"/><circle cx="558.39" cy="119.27" r="1.9"/><circle cx="568.08" cy="117.84" r="1.9"/><circle cx="541.51" cy="111.96" r="1.9"/><circle cx="549.1" cy="109.99" r="1.9"/><circle cx="547.19" cy="113.29" r="1.9"/><circle cx="534.4" cy="110.09" r="1.9"/><circle cx="545.49" cy="115.19" r="1.9"/><circle cx="548.95" cy="111.26" r="1.9"/><circle cx="541.95" cy="110.16" r="1.9"/><circle cx="560.89" cy="117.69" r="1.9"/><circle cx="541.77" cy="113.89" r="1.9"/><circle cx="567.45" cy="115.22" r="1.9"/><circle cx="550.94" cy="113.56" r="1.9"/><circle cx="553.64" cy="115.65" r="1.9"/><circle cx="557" cy="112.99" r="1.9"/><circle cx="547.03" cy="109.61" r="1.9"/><circle cx="542.72" cy="114.74" r="1.9"/><circle cx="533.19" cy="112.04" r="1.9"/><circle cx="540.32" cy="110.89" r="1.9"/><circle cx="568.32" cy="119.25" r="1.9"/><circle cx="533.07" cy="110.04" r="1.9"/><circle cx="544.77" cy="117.72" r="1.9"/><circle cx="560.44" cy="114" r="1.9"/><circle cx="531.78" cy="110.94" r="1.9"/><circle cx="568.58" cy="113.72" r="1.9"/><circle cx="532.91" cy="111.07" r="1.9"/><circle cx="553.58" cy="106.57" r="1.9"/><circle cx="560.45" cy="123.13" r="1.9"/><circle cx="550.45" cy="115.34" r="1.9"/></g>
<line x1="421.6" y1="128.8" x2="643.2" y2="128.8" stroke="#222" stroke-width="1.2" stroke-dasharray="3.3,2.96"/>
<rect x="421.6" y="35.8" width="221.6" height="148.8" fill="none" stroke="#808080" stroke-width="1.1"/>
<path d="M421.6 180.8h3.6M643.2 180.8h-3.6M421.6 177.2h3.6M643.2 177.2h-3.6M421.6 174.25h3.6M643.2 174.25h-3.6M421.6 171.76h3.6M643.2 171.76h-3.6M421.6 169.61h3.6M643.2 169.61h-3.6M421.6 167.7h3.6M643.2 167.7h-3.6M421.6 166h7.0M643.2 166h-7.0M421.6 154.8h3.6M643.2 154.8h-3.6M421.6 148.25h3.6M643.2 148.25h-3.6M421.6 143.6h3.6M643.2 143.6h-3.6M421.6 140h3.6M643.2 140h-3.6M421.6 137.05h3.6M643.2 137.05h-3.6M421.6 134.56h3.6M643.2 134.56h-3.6M421.6 132.41h3.6M643.2 132.41h-3.6M421.6 130.5h3.6M643.2 130.5h-3.6M421.6 128.8h7.0M643.2 128.8h-7.0M421.6 117.6h3.6M643.2 117.6h-3.6M421.6 111.05h3.6M643.2 111.05h-3.6M421.6 106.4h3.6M643.2 106.4h-3.6M421.6 102.8h3.6M643.2 102.8h-3.6M421.6 99.85h3.6M643.2 99.85h-3.6M421.6 97.36h3.6M643.2 97.36h-3.6M421.6 95.21h3.6M643.2 95.21h-3.6M421.6 93.3h3.6M643.2 93.3h-3.6M421.6 91.6h7.0M643.2 91.6h-7.0M421.6 80.4h3.6M643.2 80.4h-3.6M421.6 73.85h3.6M643.2 73.85h-3.6M421.6 69.2h3.6M643.2 69.2h-3.6M421.6 65.6h3.6M643.2 65.6h-3.6M421.6 62.65h3.6M643.2 62.65h-3.6M421.6 60.16h3.6M643.2 60.16h-3.6M421.6 58.01h3.6M643.2 58.01h-3.6M421.6 56.1h3.6M643.2 56.1h-3.6M421.6 54.4h7.0M643.2 54.4h-7.0M421.6 43.2h3.6M643.2 43.2h-3.6M421.6 36.65h3.6M643.2 36.65h-3.6M427.25 184.6v-3.6M427.25 35.8v3.6M432.62 184.6v-3.6M432.62 35.8v3.6M437.01 184.6v-3.6M437.01 35.8v3.6M440.72 184.6v-3.6M440.72 35.8v3.6M443.93 184.6v-3.6M443.93 35.8v3.6M446.77 184.6v-3.6M446.77 35.8v3.6M449.3 184.6v-7.0M449.3 35.8v7.0M465.98 184.6v-3.6M465.98 35.8v3.6M475.73 184.6v-3.6M475.73 35.8v3.6M482.65 184.6v-3.6M482.65 35.8v3.6M488.02 184.6v-3.6M488.02 35.8v3.6M492.41 184.6v-3.6M492.41 35.8v3.6M496.12 184.6v-3.6M496.12 35.8v3.6M499.33 184.6v-3.6M499.33 35.8v3.6M502.17 184.6v-3.6M502.17 35.8v3.6M504.7 184.6v-7.0M504.7 35.8v7.0M521.38 184.6v-3.6M521.38 35.8v3.6M531.13 184.6v-3.6M531.13 35.8v3.6M538.05 184.6v-3.6M538.05 35.8v3.6M543.42 184.6v-3.6M543.42 35.8v3.6M547.81 184.6v-3.6M547.81 35.8v3.6M551.52 184.6v-3.6M551.52 35.8v3.6M554.73 184.6v-3.6M554.73 35.8v3.6M557.57 184.6v-3.6M557.57 35.8v3.6M560.1 184.6v-7.0M560.1 35.8v7.0M576.78 184.6v-3.6M576.78 35.8v3.6M586.53 184.6v-3.6M586.53 35.8v3.6M593.45 184.6v-3.6M593.45 35.8v3.6M598.82 184.6v-3.6M598.82 35.8v3.6M603.21 184.6v-3.6M603.21 35.8v3.6M606.92 184.6v-3.6M606.92 35.8v3.6M610.13 184.6v-3.6M610.13 35.8v3.6M612.97 184.6v-3.6M612.97 35.8v3.6M615.5 184.6v-7.0M615.5 35.8v7.0M632.18 184.6v-3.6M632.18 35.8v3.6M641.93 184.6v-3.6M641.93 35.8v3.6" fill="none" stroke="#808080" stroke-width="1"/>
<rect x="651.6" y="35.8" width="68" height="148.8" fill="none" stroke="#808080" stroke-width="1.1"/>
<path d="M651.6 180.8h3.6M719.6 180.8h-3.6M651.6 177.2h3.6M719.6 177.2h-3.6M651.6 174.25h3.6M719.6 174.25h-3.6M651.6 171.76h3.6M719.6 171.76h-3.6M651.6 169.61h3.6M719.6 169.61h-3.6M651.6 167.7h3.6M719.6 167.7h-3.6M651.6 166h7.0M719.6 166h-7.0M651.6 154.8h3.6M719.6 154.8h-3.6M651.6 148.25h3.6M719.6 148.25h-3.6M651.6 143.6h3.6M719.6 143.6h-3.6M651.6 140h3.6M719.6 140h-3.6M651.6 137.05h3.6M719.6 137.05h-3.6M651.6 134.56h3.6M719.6 134.56h-3.6M651.6 132.41h3.6M719.6 132.41h-3.6M651.6 130.5h3.6M719.6 130.5h-3.6M651.6 128.8h7.0M719.6 128.8h-7.0M651.6 117.6h3.6M719.6 117.6h-3.6M651.6 111.05h3.6M719.6 111.05h-3.6M651.6 106.4h3.6M719.6 106.4h-3.6M651.6 102.8h3.6M719.6 102.8h-3.6M651.6 99.85h3.6M719.6 99.85h-3.6M651.6 97.36h3.6M719.6 97.36h-3.6M651.6 95.21h3.6M719.6 95.21h-3.6M651.6 93.3h3.6M719.6 93.3h-3.6M651.6 91.6h7.0M719.6 91.6h-7.0M651.6 80.4h3.6M719.6 80.4h-3.6M651.6 73.85h3.6M719.6 73.85h-3.6M651.6 69.2h3.6M719.6 69.2h-3.6M651.6 65.6h3.6M719.6 65.6h-3.6M651.6 62.65h3.6M719.6 62.65h-3.6M651.6 60.16h3.6M719.6 60.16h-3.6M651.6 58.01h3.6M719.6 58.01h-3.6M651.6 56.1h3.6M719.6 56.1h-3.6M651.6 54.4h7.0M719.6 54.4h-7.0M651.6 43.2h3.6M719.6 43.2h-3.6M651.6 36.65h3.6M719.6 36.65h-3.6M651.6 184.6v-7.0M651.6 35.8v7.0M654.69 184.6v-3.6M654.69 35.8v3.6M657.78 184.6v-3.6M657.78 35.8v3.6M660.87 184.6v-3.6M660.87 35.8v3.6M663.96 184.6v-3.6M663.96 35.8v3.6M667.05 184.6v-3.6M667.05 35.8v3.6M670.15 184.6v-3.6M670.15 35.8v3.6M673.24 184.6v-3.6M673.24 35.8v3.6M676.33 184.6v-3.6M676.33 35.8v3.6M679.42 184.6v-3.6M679.42 35.8v3.6M682.51 184.6v-7.0M682.51 35.8v7.0M685.6 184.6v-3.6M685.6 35.8v3.6M688.69 184.6v-3.6M688.69 35.8v3.6M691.78 184.6v-3.6M691.78 35.8v3.6M694.87 184.6v-3.6M694.87 35.8v3.6M697.96 184.6v-3.6M697.96 35.8v3.6M701.05 184.6v-3.6M701.05 35.8v3.6M704.15 184.6v-3.6M704.15 35.8v3.6M707.24 184.6v-3.6M707.24 35.8v3.6M710.33 184.6v-3.6M710.33 35.8v3.6M713.42 184.6v-7.0M713.42 35.8v7.0M716.51 184.6v-3.6M716.51 35.8v3.6M719.6 184.6v-3.6M719.6 35.8v3.6" fill="none" stroke="#808080" stroke-width="1"/>
<path d="M651.60 78.54H652.72V80.40H652.57V82.26H653.45V84.12H653.63V85.98H653.30V87.84H653.72V89.70H653.28V91.56H653.46V93.42H653.74V95.28H654.69V97.14H653.95V99.00H656.92V100.86H655.14V102.72H656.41V104.58H657.36V106.44H665.64V108.30H665.77V110.16H670.97V112.02H673.85V113.88H688.37V115.74H679.94V117.60H666.41V119.46H662.20V121.32H656.37V123.18H653.36V125.04H653.35V126.90H652.70V128.76H651.60" fill="none" stroke="#222" stroke-opacity="0.8" stroke-width="1.5"/>
<path d="M651.60 94.15H653.10V96.01H654.25V97.87H654.23V99.73H654.84V101.59H655.61V103.45H656.21V105.31H657.90V107.17H656.75V109.03H662.16V110.89H666.58V112.75H669.24V114.61H668.73V116.47H688.84V118.33H670.05V120.19H673.81V122.05H661.33V123.91H656.08V125.77H654.36V127.63H656.10V129.49H652.34V131.35H651.60" fill="none" stroke="#DC143C" stroke-opacity="0.7" stroke-width="1.5"/>
<line x1="651.6" y1="114.0" x2="719.6" y2="114.0" stroke="#1a1a9c" stroke-width="1.5"/>
<line x1="651.6" y1="117.1" x2="719.6" y2="117.1" stroke="#ff1414" stroke-width="1.5"/>
<line x1="712.3" y1="109.2" x2="712.3" y2="116.7" stroke="#000" stroke-width="1.8"/>
<line x1="715.2" y1="112.6" x2="715.2" y2="120.5" stroke="#ff1414" stroke-width="1.8"/>
<text transform="translate(415.2,60.4) scale(0.9,1)" font-size="13.2" text-anchor="end">10<tspan font-size="7.6" dy="-7.6">2</tspan></text>
<text transform="translate(415.2,97.6) scale(0.9,1)" font-size="13.2" text-anchor="end">10<tspan font-size="7.6" dy="-7.6">1</tspan></text>
<text transform="translate(415.2,134.8) scale(0.9,1)" font-size="13.2" text-anchor="end">10<tspan font-size="7.6" dy="-7.6">0</tspan></text>
<text transform="translate(415.2,172) scale(0.9,1)" font-size="13.2" text-anchor="end">10<tspan font-size="7.6" dy="-7.6">-1</tspan></text>
<text transform="translate(449.8,201.4) scale(0.9,1)" font-size="13.2" text-anchor="middle">10<tspan font-size="7.6" dy="-7.6">-2</tspan></text>
<text transform="translate(505.2,201.4) scale(0.9,1)" font-size="13.2" text-anchor="middle">10<tspan font-size="7.6" dy="-7.6">-1</tspan></text>
<text transform="translate(560.6,201.4) scale(0.9,1)" font-size="13.2" text-anchor="middle">10<tspan font-size="7.6" dy="-7.6">0</tspan></text>
<text transform="translate(616,201.4) scale(0.9,1)" font-size="13.2" text-anchor="middle">10<tspan font-size="7.6" dy="-7.6">1</tspan></text>
<text x="651.6" y="197.2" font-size="13.4" text-anchor="middle" >0.0</text>
<text x="682.51" y="197.2" font-size="13.4" text-anchor="middle" >0.1</text>
<text x="713.42" y="197.2" font-size="13.4" text-anchor="middle" >0.2</text>
<text x="532.2" y="214.2" font-size="13.6" text-anchor="middle" font-family="Liberation Sans" font-style="italic" style="stroke-width:0.45px">β</text>
<text x="685.6" y="209.8" font-size="14" text-anchor="middle" textLength="95" lengthAdjust="spacingAndGlyphs">Probability density</text>
<text transform="translate(385.2,109.5) rotate(-90)" font-size="12.8" text-anchor="middle">k<tspan font-size="8.8" dy="3.2" font-style="italic">ρ</tspan><tspan dy="-3.2"> / k</tspan><tspan font-size="8.8" dy="3.2">b</tspan></text>
<text transform="translate(430,51) scale(0.95,1)" font-size="12.4">(c) FR k<tspan font-size="9.2" dy="2.6" font-style="italic">ρ</tspan><tspan dy="-2.6" dx="1.6" font-size="13.4">/</tspan><tspan dx="0.6">k</tspan><tspan font-size="9" dy="2.6">b</tspan></text>
<text transform="translate(659.6,50.8) scale(0.95,1)" font-size="12.4">(d)</text>
<g fill="#708090" fill-opacity="0.8"><circle cx="97.5" cy="287.8" r="1.9"/><circle cx="105.7" cy="281" r="1.9"/><circle cx="107.3" cy="290.8" r="1.9"/><circle cx="111.7" cy="289.4" r="1.9"/><circle cx="115" cy="286.7" r="1.9"/><circle cx="111.4" cy="298.9" r="1.9"/><circle cx="115.6" cy="296.8" r="1.9"/><circle cx="119.6" cy="288.3" r="1.9"/><circle cx="118" cy="292.1" r="1.9"/><circle cx="121.3" cy="291" r="1.9"/><circle cx="124.9" cy="291" r="1.9"/><circle cx="127.3" cy="287.8" r="1.9"/><circle cx="121.8" cy="298.2" r="1.9"/><circle cx="124.9" cy="296" r="1.9"/><circle cx="130" cy="301.5" r="1.9"/><circle cx="127.3" cy="304.8" r="1.9"/><circle cx="137.2" cy="277.3" r="1.9"/><circle cx="143.2" cy="278.4" r="1.9"/><circle cx="135.9" cy="281.2" r="1.9"/><circle cx="131.7" cy="290.5" r="1.9"/><circle cx="133.3" cy="293.8" r="1.9"/><circle cx="135" cy="291.6" r="1.9"/><circle cx="135" cy="297.6" r="1.9"/><circle cx="146.5" cy="287.8" r="1.9"/><circle cx="147.6" cy="289.4" r="1.9"/><circle cx="150.9" cy="284.5" r="1.9"/><circle cx="154.7" cy="286.1" r="1.9"/><circle cx="159.7" cy="282.8" r="1.9"/><circle cx="160.8" cy="291" r="1.9"/><circle cx="140" cy="312.4" r="1.9"/><circle cx="159.1" cy="310.2" r="1.9"/><circle cx="160.5" cy="284" r="1.9"/><circle cx="161" cy="288" r="1.9"/><circle cx="162" cy="293" r="1.9"/><circle cx="163" cy="297" r="1.9"/><circle cx="184.7" cy="302.9" r="1.9"/><circle cx="165" cy="310.6" r="1.9"/><circle cx="165.1" cy="310.1" r="1.9"/><circle cx="152" cy="296" r="1.9"/><circle cx="156" cy="291" r="1.9"/><circle cx="148" cy="300" r="1.9"/><circle cx="143" cy="304" r="1.9"/><circle cx="155.25" cy="303.73" r="1.9"/><circle cx="132.31" cy="293.97" r="1.9"/><circle cx="148.98" cy="297.22" r="1.9"/><circle cx="157.81" cy="300.14" r="1.9"/><circle cx="149.21" cy="297.83" r="1.9"/><circle cx="131.11" cy="297.27" r="1.9"/><circle cx="154.71" cy="299.72" r="1.9"/><circle cx="144.25" cy="297.36" r="1.9"/><circle cx="140.77" cy="299.06" r="1.9"/><circle cx="135.94" cy="290.26" r="1.9"/><circle cx="148.13" cy="293.51" r="1.9"/><circle cx="156.16" cy="294.19" r="1.9"/><circle cx="129.46" cy="293.01" r="1.9"/><circle cx="151.27" cy="298.2" r="1.9"/><circle cx="136.01" cy="289.72" r="1.9"/><circle cx="131.16" cy="293.5" r="1.9"/><circle cx="138.74" cy="298.42" r="1.9"/><circle cx="139.02" cy="294.32" r="1.9"/><circle cx="155.68" cy="298.6" r="1.9"/><circle cx="134.99" cy="296.03" r="1.9"/><circle cx="155.13" cy="298.05" r="1.9"/><circle cx="128.08" cy="295.99" r="1.9"/><circle cx="142.58" cy="298.97" r="1.9"/><circle cx="134.46" cy="298.82" r="1.9"/><circle cx="149.18" cy="298.24" r="1.9"/><circle cx="152.57" cy="300.71" r="1.9"/><circle cx="142.39" cy="289.6" r="1.9"/><circle cx="130.64" cy="296.26" r="1.9"/><circle cx="144.53" cy="292.88" r="1.9"/><circle cx="142.96" cy="296.79" r="1.9"/><circle cx="130.44" cy="294.81" r="1.9"/><circle cx="147.24" cy="296.09" r="1.9"/><circle cx="142.53" cy="296.68" r="1.9"/><circle cx="133.33" cy="296.99" r="1.9"/><circle cx="152.74" cy="299.68" r="1.9"/><circle cx="148.18" cy="296.49" r="1.9"/><circle cx="143.44" cy="298.32" r="1.9"/><circle cx="159.47" cy="297.32" r="1.9"/><circle cx="148.6" cy="297.17" r="1.9"/><circle cx="142.98" cy="296.87" r="1.9"/></g>
<g fill="#DC143C" fill-opacity="0.85"><circle cx="135.5" cy="287.2" r="1.9"/><circle cx="129.3" cy="297.6" r="1.9"/><circle cx="137.7" cy="300.9" r="1.9"/><circle cx="165.7" cy="285" r="1.9"/><circle cx="160.8" cy="287.5" r="1.9"/><circle cx="154.7" cy="294.3" r="1.9"/><circle cx="154.2" cy="298.2" r="1.9"/><circle cx="161.9" cy="296.3" r="1.9"/><circle cx="156.9" cy="303.7" r="1.9"/><circle cx="160.2" cy="307" r="1.9"/><circle cx="167" cy="299" r="1.9"/><circle cx="169" cy="303" r="1.9"/><circle cx="168" cy="306" r="1.9"/><circle cx="165.7" cy="285.4" r="1.9"/><circle cx="174" cy="291.7" r="1.9"/><circle cx="195.3" cy="287" r="1.9"/><circle cx="218.7" cy="285.6" r="1.9"/><circle cx="207.4" cy="294.4" r="1.9"/><circle cx="211.8" cy="301.1" r="1.9"/><circle cx="199.3" cy="302.9" r="1.9"/><circle cx="216.5" cy="308.6" r="1.9"/><circle cx="238.5" cy="307.1" r="1.9"/><circle cx="206.6" cy="309" r="1.9"/><circle cx="189.1" cy="297.4" r="1.9"/><circle cx="189.6" cy="299.4" r="1.9"/><circle cx="185.5" cy="298" r="1.9"/><circle cx="176.5" cy="298" r="1.9"/><circle cx="171" cy="296.9" r="1.9"/><circle cx="162" cy="296.3" r="1.9"/><circle cx="245.3" cy="303.3" r="1.9"/><circle cx="238.8" cy="307.1" r="1.9"/><circle cx="211.7" cy="301.1" r="1.9"/><circle cx="216.3" cy="308.6" r="1.9"/><circle cx="216.9" cy="315.4" r="1.9"/><circle cx="210.2" cy="315.1" r="1.9"/><circle cx="225.7" cy="317.4" r="1.9"/><circle cx="229" cy="316.9" r="1.9"/><circle cx="225.4" cy="322.5" r="1.9"/><circle cx="198.1" cy="322.5" r="1.9"/><circle cx="202.2" cy="322.5" r="1.9"/><circle cx="203.3" cy="317.4" r="1.9"/><circle cx="206.7" cy="309.4" r="1.9"/><circle cx="199.2" cy="302.9" r="1.9"/><circle cx="207.5" cy="295" r="1.9"/><circle cx="170.73" cy="305.82" r="1.9"/><circle cx="194.99" cy="313.07" r="1.9"/><circle cx="190.39" cy="305.42" r="1.9"/><circle cx="170.92" cy="306.06" r="1.9"/><circle cx="192.27" cy="306.5" r="1.9"/><circle cx="201.6" cy="307" r="1.9"/><circle cx="164.03" cy="303.33" r="1.9"/><circle cx="187.32" cy="310.82" r="1.9"/><circle cx="185.82" cy="304.07" r="1.9"/><circle cx="181.44" cy="306.82" r="1.9"/><circle cx="186.26" cy="310.37" r="1.9"/><circle cx="185.21" cy="309.72" r="1.9"/><circle cx="197.91" cy="306.89" r="1.9"/><circle cx="200.77" cy="309.63" r="1.9"/><circle cx="176.43" cy="306.96" r="1.9"/><circle cx="204.61" cy="315.96" r="1.9"/><circle cx="190.5" cy="309.32" r="1.9"/><circle cx="192.32" cy="309.84" r="1.9"/><circle cx="192.67" cy="309.13" r="1.9"/><circle cx="199.74" cy="310.45" r="1.9"/><circle cx="198.56" cy="312.57" r="1.9"/><circle cx="179.49" cy="308.78" r="1.9"/><circle cx="186.47" cy="305.19" r="1.9"/><circle cx="183.38" cy="303.94" r="1.9"/><circle cx="183.42" cy="301.75" r="1.9"/><circle cx="206.95" cy="310.96" r="1.9"/><circle cx="169.62" cy="300.66" r="1.9"/><circle cx="165.78" cy="300.7" r="1.9"/><circle cx="188.25" cy="307.88" r="1.9"/><circle cx="182.8" cy="302.69" r="1.9"/><circle cx="177.8" cy="307.6" r="1.9"/><circle cx="187.82" cy="308.76" r="1.9"/><circle cx="201.92" cy="308.06" r="1.9"/><circle cx="200.9" cy="308.18" r="1.9"/><circle cx="176.38" cy="305.81" r="1.9"/><circle cx="181.49" cy="305.52" r="1.9"/><circle cx="194.39" cy="306.66" r="1.9"/><circle cx="185.55" cy="309.63" r="1.9"/><circle cx="202.08" cy="314.09" r="1.9"/><circle cx="193.65" cy="308.58" r="1.9"/><circle cx="202.41" cy="312.58" r="1.9"/><circle cx="178.02" cy="308.94" r="1.9"/><circle cx="199.88" cy="308.58" r="1.9"/><circle cx="181.1" cy="303.46" r="1.9"/><circle cx="193.72" cy="308.95" r="1.9"/><circle cx="190.82" cy="304.68" r="1.9"/><circle cx="196.24" cy="310.49" r="1.9"/><circle cx="179.12" cy="309.12" r="1.9"/><circle cx="190.75" cy="310" r="1.9"/><circle cx="172.23" cy="304.28" r="1.9"/><circle cx="191.2" cy="312.41" r="1.9"/><circle cx="193.06" cy="309.02" r="1.9"/><circle cx="174.51" cy="303.74" r="1.9"/><circle cx="169.41" cy="307.2" r="1.9"/><circle cx="170.71" cy="300.89" r="1.9"/></g>
<line x1="46.6" y1="320.8" x2="268.2" y2="320.8" stroke="#222" stroke-width="1.2" stroke-dasharray="3.3,2.96"/>
<rect x="46.6" y="227.8" width="221.6" height="148.8" fill="none" stroke="#808080" stroke-width="1.1"/>
<path d="M46.6 372.8h3.6M268.2 372.8h-3.6M46.6 369.2h3.6M268.2 369.2h-3.6M46.6 366.25h3.6M268.2 366.25h-3.6M46.6 363.76h3.6M268.2 363.76h-3.6M46.6 361.61h3.6M268.2 361.61h-3.6M46.6 359.7h3.6M268.2 359.7h-3.6M46.6 358h7.0M268.2 358h-7.0M46.6 346.8h3.6M268.2 346.8h-3.6M46.6 340.25h3.6M268.2 340.25h-3.6M46.6 335.6h3.6M268.2 335.6h-3.6M46.6 332h3.6M268.2 332h-3.6M46.6 329.05h3.6M268.2 329.05h-3.6M46.6 326.56h3.6M268.2 326.56h-3.6M46.6 324.41h3.6M268.2 324.41h-3.6M46.6 322.5h3.6M268.2 322.5h-3.6M46.6 320.8h7.0M268.2 320.8h-7.0M46.6 309.6h3.6M268.2 309.6h-3.6M46.6 303.05h3.6M268.2 303.05h-3.6M46.6 298.4h3.6M268.2 298.4h-3.6M46.6 294.8h3.6M268.2 294.8h-3.6M46.6 291.85h3.6M268.2 291.85h-3.6M46.6 289.36h3.6M268.2 289.36h-3.6M46.6 287.21h3.6M268.2 287.21h-3.6M46.6 285.3h3.6M268.2 285.3h-3.6M46.6 283.6h7.0M268.2 283.6h-7.0M46.6 272.4h3.6M268.2 272.4h-3.6M46.6 265.85h3.6M268.2 265.85h-3.6M46.6 261.2h3.6M268.2 261.2h-3.6M46.6 257.6h3.6M268.2 257.6h-3.6M46.6 254.65h3.6M268.2 254.65h-3.6M46.6 252.16h3.6M268.2 252.16h-3.6M46.6 250.01h3.6M268.2 250.01h-3.6M46.6 248.1h3.6M268.2 248.1h-3.6M46.6 246.4h7.0M268.2 246.4h-7.0M46.6 235.2h3.6M268.2 235.2h-3.6M46.6 228.65h3.6M268.2 228.65h-3.6M52.25 376.6v-3.6M52.25 227.8v3.6M57.62 376.6v-3.6M57.62 227.8v3.6M62.01 376.6v-3.6M62.01 227.8v3.6M65.72 376.6v-3.6M65.72 227.8v3.6M68.93 376.6v-3.6M68.93 227.8v3.6M71.77 376.6v-3.6M71.77 227.8v3.6M74.3 376.6v-7.0M74.3 227.8v7.0M90.98 376.6v-3.6M90.98 227.8v3.6M100.73 376.6v-3.6M100.73 227.8v3.6M107.65 376.6v-3.6M107.65 227.8v3.6M113.02 376.6v-3.6M113.02 227.8v3.6M117.41 376.6v-3.6M117.41 227.8v3.6M121.12 376.6v-3.6M121.12 227.8v3.6M124.33 376.6v-3.6M124.33 227.8v3.6M127.17 376.6v-3.6M127.17 227.8v3.6M129.7 376.6v-7.0M129.7 227.8v7.0M146.38 376.6v-3.6M146.38 227.8v3.6M156.13 376.6v-3.6M156.13 227.8v3.6M163.05 376.6v-3.6M163.05 227.8v3.6M168.42 376.6v-3.6M168.42 227.8v3.6M172.81 376.6v-3.6M172.81 227.8v3.6M176.52 376.6v-3.6M176.52 227.8v3.6M179.73 376.6v-3.6M179.73 227.8v3.6M182.57 376.6v-3.6M182.57 227.8v3.6M185.1 376.6v-7.0M185.1 227.8v7.0M201.78 376.6v-3.6M201.78 227.8v3.6M211.53 376.6v-3.6M211.53 227.8v3.6M218.45 376.6v-3.6M218.45 227.8v3.6M223.82 376.6v-3.6M223.82 227.8v3.6M228.21 376.6v-3.6M228.21 227.8v3.6M231.92 376.6v-3.6M231.92 227.8v3.6M235.13 376.6v-3.6M235.13 227.8v3.6M237.97 376.6v-3.6M237.97 227.8v3.6M240.5 376.6v-7.0M240.5 227.8v7.0M257.18 376.6v-3.6M257.18 227.8v3.6M266.93 376.6v-3.6M266.93 227.8v3.6" fill="none" stroke="#808080" stroke-width="1"/>
<rect x="276.6" y="227.8" width="68" height="148.8" fill="none" stroke="#808080" stroke-width="1.1"/>
<path d="M276.6 372.8h3.6M344.6 372.8h-3.6M276.6 369.2h3.6M344.6 369.2h-3.6M276.6 366.25h3.6M344.6 366.25h-3.6M276.6 363.76h3.6M344.6 363.76h-3.6M276.6 361.61h3.6M344.6 361.61h-3.6M276.6 359.7h3.6M344.6 359.7h-3.6M276.6 358h7.0M344.6 358h-7.0M276.6 346.8h3.6M344.6 346.8h-3.6M276.6 340.25h3.6M344.6 340.25h-3.6M276.6 335.6h3.6M344.6 335.6h-3.6M276.6 332h3.6M344.6 332h-3.6M276.6 329.05h3.6M344.6 329.05h-3.6M276.6 326.56h3.6M344.6 326.56h-3.6M276.6 324.41h3.6M344.6 324.41h-3.6M276.6 322.5h3.6M344.6 322.5h-3.6M276.6 320.8h7.0M344.6 320.8h-7.0M276.6 309.6h3.6M344.6 309.6h-3.6M276.6 303.05h3.6M344.6 303.05h-3.6M276.6 298.4h3.6M344.6 298.4h-3.6M276.6 294.8h3.6M344.6 294.8h-3.6M276.6 291.85h3.6M344.6 291.85h-3.6M276.6 289.36h3.6M344.6 289.36h-3.6M276.6 287.21h3.6M344.6 287.21h-3.6M276.6 285.3h3.6M344.6 285.3h-3.6M276.6 283.6h7.0M344.6 283.6h-7.0M276.6 272.4h3.6M344.6 272.4h-3.6M276.6 265.85h3.6M344.6 265.85h-3.6M276.6 261.2h3.6M344.6 261.2h-3.6M276.6 257.6h3.6M344.6 257.6h-3.6M276.6 254.65h3.6M344.6 254.65h-3.6M276.6 252.16h3.6M344.6 252.16h-3.6M276.6 250.01h3.6M344.6 250.01h-3.6M276.6 248.1h3.6M344.6 248.1h-3.6M276.6 246.4h7.0M344.6 246.4h-7.0M276.6 235.2h3.6M344.6 235.2h-3.6M276.6 228.65h3.6M344.6 228.65h-3.6M276.6 376.6v-7.0M276.6 227.8v7.0M279.69 376.6v-3.6M279.69 227.8v3.6M282.78 376.6v-3.6M282.78 227.8v3.6M285.87 376.6v-3.6M285.87 227.8v3.6M288.96 376.6v-3.6M288.96 227.8v3.6M292.05 376.6v-3.6M292.05 227.8v3.6M295.15 376.6v-3.6M295.15 227.8v3.6M298.24 376.6v-3.6M298.24 227.8v3.6M301.33 376.6v-3.6M301.33 227.8v3.6M304.42 376.6v-3.6M304.42 227.8v3.6M307.51 376.6v-7.0M307.51 227.8v7.0M310.6 376.6v-3.6M310.6 227.8v3.6M313.69 376.6v-3.6M313.69 227.8v3.6M316.78 376.6v-3.6M316.78 227.8v3.6M319.87 376.6v-3.6M319.87 227.8v3.6M322.96 376.6v-3.6M322.96 227.8v3.6M326.05 376.6v-3.6M326.05 227.8v3.6M329.15 376.6v-3.6M329.15 227.8v3.6M332.24 376.6v-3.6M332.24 227.8v3.6M335.33 376.6v-3.6M335.33 227.8v3.6M338.42 376.6v-7.0M338.42 227.8v7.0M341.51 376.6v-3.6M341.51 227.8v3.6M344.6 376.6v-3.6M344.6 227.8v3.6" fill="none" stroke="#808080" stroke-width="1"/>
<path d="M276.60 275.41H277.34V277.27H278.52V279.13H278.57V280.99H280.45V282.85H281.86V284.71H284.09V286.57H288.63V288.43H290.18V290.29H286.83V292.15H295.76V294.01H307.27V295.87H305.32V297.73H307.88V299.59H299.75V301.45H289.46V303.31H281.96V305.17H279.68V307.03H280.54V308.89H279.21V310.75H278.50V312.61H277.99V314.47H277.74V316.33H277.39V318.19H276.60" fill="none" stroke="#222" stroke-opacity="0.8" stroke-width="1.5"/>
<path d="M276.60 281.27H277.79V283.13H277.75V284.99H278.67V286.85H279.09V288.71H279.57V290.57H280.05V292.43H283.14V294.29H285.63V296.15H287.33V298.01H285.66V299.87H291.53V301.73H292.25V303.59H298.85V305.45H317.89V307.31H292.46V309.17H288.94V311.03H289.88V312.89H287.21V314.75H283.49V316.61H281.71V318.47H280.05V320.33H280.03V322.19H279.83V324.05H279.06V325.91H276.60" fill="none" stroke="#DC143C" stroke-opacity="0.7" stroke-width="1.5"/>
<line x1="276.6" y1="296.9" x2="344.6" y2="296.9" stroke="#1a1a9c" stroke-width="1.5"/>
<line x1="276.6" y1="306.7" x2="344.6" y2="306.7" stroke="#ff1414" stroke-width="1.5"/>
<line x1="333.7" y1="292.5" x2="333.7" y2="301.7" stroke="#000" stroke-width="1.8"/>
<line x1="337" y1="302.4" x2="337" y2="311.6" stroke="#ff1414" stroke-width="1.8"/>
<text transform="translate(40.2,252.4) scale(0.9,1)" font-size="13.2" text-anchor="end">10<tspan font-size="7.6" dy="-7.6">2</tspan></text>
<text transform="translate(40.2,289.6) scale(0.9,1)" font-size="13.2" text-anchor="end">10<tspan font-size="7.6" dy="-7.6">1</tspan></text>
<text transform="translate(40.2,326.8) scale(0.9,1)" font-size="13.2" text-anchor="end">10<tspan font-size="7.6" dy="-7.6">0</tspan></text>
<text transform="translate(40.2,364) scale(0.9,1)" font-size="13.2" text-anchor="end">10<tspan font-size="7.6" dy="-7.6">-1</tspan></text>
<text transform="translate(74.8,393.4) scale(0.9,1)" font-size="13.2" text-anchor="middle">10<tspan font-size="7.6" dy="-7.6">-2</tspan></text>
<text transform="translate(130.2,393.4) scale(0.9,1)" font-size="13.2" text-anchor="middle">10<tspan font-size="7.6" dy="-7.6">-1</tspan></text>
<text transform="translate(185.6,393.4) scale(0.9,1)" font-size="13.2" text-anchor="middle">10<tspan font-size="7.6" dy="-7.6">0</tspan></text>
<text transform="translate(241,393.4) scale(0.9,1)" font-size="13.2" text-anchor="middle">10<tspan font-size="7.6" dy="-7.6">1</tspan></text>
<text x="276.6" y="389.2" font-size="13.4" text-anchor="middle" >0.0</text>
<text x="307.51" y="389.2" font-size="13.4" text-anchor="middle" >0.1</text>
<text x="338.42" y="389.2" font-size="13.4" text-anchor="middle" >0.2</text>
<text x="157.2" y="406.2" font-size="13.6" text-anchor="middle" font-family="Liberation Sans" font-style="italic" style="stroke-width:0.45px">β</text>
<text x="310.6" y="401.8" font-size="14" text-anchor="middle" textLength="95" lengthAdjust="spacingAndGlyphs">Probability density</text>
<text transform="translate(10.2,301.5) rotate(-90)" font-size="12.8" text-anchor="middle">k<tspan font-size="8.8" dy="3.2" font-style="italic">ρ</tspan><tspan dy="-3.2"> / k</tspan><tspan font-size="8.8" dy="3.2">b</tspan></text>
<text transform="translate(55,243) scale(0.95,1)" font-size="12.4">(e) SF k<tspan font-size="9.2" dy="2.6" font-style="italic">ρ</tspan><tspan dy="-2.6" dx="1.6" font-size="13.4">/</tspan><tspan dx="0.6">k</tspan><tspan font-size="9" dy="2.6">b</tspan></text>
<text transform="translate(284.6,242.8) scale(0.95,1)" font-size="12.4">(f)</text>
<g fill="#708090" fill-opacity="0.8"><circle cx="469.7" cy="283.7" r="1.9"/><circle cx="467.1" cy="291.3" r="1.9"/><circle cx="488.5" cy="290.5" r="1.9"/><circle cx="495.3" cy="288.6" r="1.9"/><circle cx="502.8" cy="285.9" r="1.9"/><circle cx="506.4" cy="290" r="1.9"/><circle cx="510.5" cy="290" r="1.9"/><circle cx="514.9" cy="290" r="1.9"/><circle cx="510.8" cy="278.2" r="1.9"/><circle cx="515.7" cy="276.5" r="1.9"/><circle cx="528.3" cy="271" r="1.9"/><circle cx="519.3" cy="286.4" r="1.9"/><circle cx="521.5" cy="286.4" r="1.9"/><circle cx="519.3" cy="293" r="1.9"/><circle cx="527.5" cy="291.9" r="1.9"/><circle cx="508.3" cy="297" r="1.9"/><circle cx="512.7" cy="296.6" r="1.9"/><circle cx="501.2" cy="300.3" r="1.9"/><circle cx="510.5" cy="304" r="1.9"/><circle cx="540.6" cy="286.5" r="1.9"/><circle cx="521.1" cy="286.5" r="1.9"/><circle cx="527" cy="292" r="1.9"/><circle cx="529" cy="292" r="1.9"/><circle cx="537" cy="295" r="1.9"/><circle cx="539" cy="297" r="1.9"/><circle cx="545.8" cy="302.9" r="1.9"/><circle cx="544.1" cy="305.1" r="1.9"/><circle cx="540.9" cy="309" r="1.9"/><circle cx="526" cy="305" r="1.9"/><circle cx="529" cy="305" r="1.9"/><circle cx="543.17" cy="305.84" r="1.9"/><circle cx="544.89" cy="306.35" r="1.9"/><circle cx="537.7" cy="299.88" r="1.9"/><circle cx="522.05" cy="300.36" r="1.9"/><circle cx="531.57" cy="305.17" r="1.9"/><circle cx="541.26" cy="305.08" r="1.9"/><circle cx="539.76" cy="303.4" r="1.9"/><circle cx="519.18" cy="299.76" r="1.9"/><circle cx="537.22" cy="306.1" r="1.9"/><circle cx="529.25" cy="300.65" r="1.9"/><circle cx="522.77" cy="300.59" r="1.9"/><circle cx="537.06" cy="306.68" r="1.9"/><circle cx="517.34" cy="299.04" r="1.9"/><circle cx="521.93" cy="300.67" r="1.9"/><circle cx="515.83" cy="298.86" r="1.9"/><circle cx="532.07" cy="298.22" r="1.9"/><circle cx="543.47" cy="304.52" r="1.9"/><circle cx="534.89" cy="300.92" r="1.9"/><circle cx="532.42" cy="298.22" r="1.9"/><circle cx="534.33" cy="308.05" r="1.9"/><circle cx="526.8" cy="297.34" r="1.9"/><circle cx="541.32" cy="307.45" r="1.9"/><circle cx="529.64" cy="304.2" r="1.9"/><circle cx="520.26" cy="295.58" r="1.9"/><circle cx="526.21" cy="298.31" r="1.9"/><circle cx="516.25" cy="292.2" r="1.9"/><circle cx="537.05" cy="303.5" r="1.9"/><circle cx="519.45" cy="292.71" r="1.9"/><circle cx="542.74" cy="301.65" r="1.9"/><circle cx="529.56" cy="297.84" r="1.9"/><circle cx="541.49" cy="305.83" r="1.9"/><circle cx="534.9" cy="302.04" r="1.9"/><circle cx="535.48" cy="305.04" r="1.9"/><circle cx="542.66" cy="307.61" r="1.9"/><circle cx="534.8" cy="301.61" r="1.9"/></g>
<g fill="#DC143C" fill-opacity="0.85"><circle cx="480.1" cy="288" r="1.9"/><circle cx="503.9" cy="287" r="1.9"/><circle cx="514.3" cy="281.7" r="1.9"/><circle cx="525" cy="289.7" r="1.9"/><circle cx="537" cy="289.7" r="1.9"/><circle cx="525.3" cy="296.3" r="1.9"/><circle cx="530.8" cy="296.3" r="1.9"/><circle cx="525.3" cy="300.7" r="1.9"/><circle cx="531.9" cy="301.2" r="1.9"/><circle cx="539" cy="300.1" r="1.9"/><circle cx="567" cy="285.7" r="1.9"/><circle cx="549.1" cy="290.9" r="1.9"/><circle cx="546.3" cy="295.5" r="1.9"/><circle cx="550.7" cy="297.4" r="1.9"/><circle cx="551.8" cy="295" r="1.9"/><circle cx="554.9" cy="295.2" r="1.9"/><circle cx="584.2" cy="299.1" r="1.9"/><circle cx="566.6" cy="299.6" r="1.9"/><circle cx="568.3" cy="302.4" r="1.9"/><circle cx="561.7" cy="301.3" r="1.9"/><circle cx="578.2" cy="304" r="1.9"/><circle cx="577.1" cy="305.7" r="1.9"/><circle cx="571.6" cy="307.9" r="1.9"/><circle cx="572.7" cy="311.2" r="1.9"/><circle cx="567.7" cy="309.5" r="1.9"/><circle cx="580.4" cy="311.2" r="1.9"/><circle cx="562.8" cy="310.6" r="1.9"/><circle cx="525" cy="296.3" r="1.9"/><circle cx="525" cy="300.7" r="1.9"/><circle cx="531" cy="296.3" r="1.9"/><circle cx="531" cy="299.6" r="1.9"/><circle cx="532.6" cy="302.4" r="1.9"/><circle cx="540.3" cy="299.1" r="1.9"/><circle cx="539.8" cy="302.9" r="1.9"/><circle cx="540.9" cy="311.2" r="1.9"/><circle cx="549.1" cy="313.9" r="1.9"/><circle cx="560.6" cy="313.9" r="1.9"/><circle cx="601.4" cy="315.4" r="1.9"/><circle cx="580.5" cy="311.3" r="1.9"/><circle cx="583.9" cy="298.8" r="1.9"/><circle cx="577.8" cy="304.8" r="1.9"/><circle cx="567.6" cy="302.5" r="1.9"/><circle cx="566.3" cy="299.8" r="1.9"/><circle cx="571.7" cy="307.9" r="1.9"/><circle cx="572.4" cy="311.1" r="1.9"/><circle cx="567.6" cy="309.7" r="1.9"/><circle cx="562.9" cy="310.6" r="1.9"/><circle cx="560.1" cy="314" r="1.9"/><circle cx="562.2" cy="301.1" r="1.9"/><circle cx="548.6" cy="314" r="1.9"/><circle cx="541.1" cy="311.3" r="1.9"/><circle cx="561.85" cy="306.58" r="1.9"/><circle cx="542.77" cy="306.54" r="1.9"/><circle cx="546.75" cy="305.33" r="1.9"/><circle cx="567.64" cy="309.5" r="1.9"/><circle cx="544.93" cy="303.12" r="1.9"/><circle cx="546.93" cy="306.14" r="1.9"/><circle cx="565.73" cy="310.84" r="1.9"/><circle cx="565.97" cy="310.2" r="1.9"/><circle cx="557.72" cy="304.54" r="1.9"/><circle cx="562.3" cy="306.62" r="1.9"/><circle cx="549.07" cy="305.72" r="1.9"/><circle cx="563.98" cy="311.2" r="1.9"/><circle cx="560.72" cy="311.07" r="1.9"/><circle cx="559.3" cy="311.07" r="1.9"/><circle cx="542.64" cy="304.26" r="1.9"/><circle cx="559.15" cy="313.17" r="1.9"/><circle cx="548.18" cy="304.47" r="1.9"/><circle cx="548.63" cy="309.84" r="1.9"/><circle cx="544.21" cy="301.57" r="1.9"/><circle cx="542.83" cy="307.1" r="1.9"/><circle cx="560.17" cy="304.76" r="1.9"/><circle cx="557.6" cy="308.83" r="1.9"/><circle cx="544.35" cy="306.83" r="1.9"/><circle cx="556.43" cy="311.12" r="1.9"/><circle cx="549.51" cy="301.25" r="1.9"/><circle cx="565.11" cy="305.87" r="1.9"/><circle cx="547.91" cy="305.96" r="1.9"/><circle cx="554.85" cy="307.26" r="1.9"/><circle cx="571.22" cy="310.5" r="1.9"/><circle cx="564.72" cy="306.46" r="1.9"/><circle cx="564.04" cy="314.28" r="1.9"/><circle cx="557.56" cy="309.98" r="1.9"/><circle cx="545.22" cy="306.18" r="1.9"/><circle cx="554.22" cy="313.44" r="1.9"/><circle cx="551.04" cy="304.12" r="1.9"/><circle cx="550.26" cy="312.7" r="1.9"/><circle cx="560.13" cy="312" r="1.9"/><circle cx="561.55" cy="307.4" r="1.9"/><circle cx="550.17" cy="311.3" r="1.9"/><circle cx="550.46" cy="308.56" r="1.9"/><circle cx="545.44" cy="302.73" r="1.9"/><circle cx="547.13" cy="302.81" r="1.9"/><circle cx="550.16" cy="307.65" r="1.9"/><circle cx="553.41" cy="312.91" r="1.9"/><circle cx="553.54" cy="313.16" r="1.9"/><circle cx="557.17" cy="308.3" r="1.9"/><circle cx="549.59" cy="305.36" r="1.9"/><circle cx="543.22" cy="308.88" r="1.9"/><circle cx="545.55" cy="300.49" r="1.9"/><circle cx="556.64" cy="310.19" r="1.9"/></g>
<line x1="421.6" y1="320.8" x2="643.2" y2="320.8" stroke="#222" stroke-width="1.2" stroke-dasharray="3.3,2.96"/>
<rect x="421.6" y="227.8" width="221.6" height="148.8" fill="none" stroke="#808080" stroke-width="1.1"/>
<path d="M421.6 372.8h3.6M643.2 372.8h-3.6M421.6 369.2h3.6M643.2 369.2h-3.6M421.6 366.25h3.6M643.2 366.25h-3.6M421.6 363.76h3.6M643.2 363.76h-3.6M421.6 361.61h3.6M643.2 361.61h-3.6M421.6 359.7h3.6M643.2 359.7h-3.6M421.6 358h7.0M643.2 358h-7.0M421.6 346.8h3.6M643.2 346.8h-3.6M421.6 340.25h3.6M643.2 340.25h-3.6M421.6 335.6h3.6M643.2 335.6h-3.6M421.6 332h3.6M643.2 332h-3.6M421.6 329.05h3.6M643.2 329.05h-3.6M421.6 326.56h3.6M643.2 326.56h-3.6M421.6 324.41h3.6M643.2 324.41h-3.6M421.6 322.5h3.6M643.2 322.5h-3.6M421.6 320.8h7.0M643.2 320.8h-7.0M421.6 309.6h3.6M643.2 309.6h-3.6M421.6 303.05h3.6M643.2 303.05h-3.6M421.6 298.4h3.6M643.2 298.4h-3.6M421.6 294.8h3.6M643.2 294.8h-3.6M421.6 291.85h3.6M643.2 291.85h-3.6M421.6 289.36h3.6M643.2 289.36h-3.6M421.6 287.21h3.6M643.2 287.21h-3.6M421.6 285.3h3.6M643.2 285.3h-3.6M421.6 283.6h7.0M643.2 283.6h-7.0M421.6 272.4h3.6M643.2 272.4h-3.6M421.6 265.85h3.6M643.2 265.85h-3.6M421.6 261.2h3.6M643.2 261.2h-3.6M421.6 257.6h3.6M643.2 257.6h-3.6M421.6 254.65h3.6M643.2 254.65h-3.6M421.6 252.16h3.6M643.2 252.16h-3.6M421.6 250.01h3.6M643.2 250.01h-3.6M421.6 248.1h3.6M643.2 248.1h-3.6M421.6 246.4h7.0M643.2 246.4h-7.0M421.6 235.2h3.6M643.2 235.2h-3.6M421.6 228.65h3.6M643.2 228.65h-3.6M427.25 376.6v-3.6M427.25 227.8v3.6M432.62 376.6v-3.6M432.62 227.8v3.6M437.01 376.6v-3.6M437.01 227.8v3.6M440.72 376.6v-3.6M440.72 227.8v3.6M443.93 376.6v-3.6M443.93 227.8v3.6M446.77 376.6v-3.6M446.77 227.8v3.6M449.3 376.6v-7.0M449.3 227.8v7.0M465.98 376.6v-3.6M465.98 227.8v3.6M475.73 376.6v-3.6M475.73 227.8v3.6M482.65 376.6v-3.6M482.65 227.8v3.6M488.02 376.6v-3.6M488.02 227.8v3.6M492.41 376.6v-3.6M492.41 227.8v3.6M496.12 376.6v-3.6M496.12 227.8v3.6M499.33 376.6v-3.6M499.33 227.8v3.6M502.17 376.6v-3.6M502.17 227.8v3.6M504.7 376.6v-7.0M504.7 227.8v7.0M521.38 376.6v-3.6M521.38 227.8v3.6M531.13 376.6v-3.6M531.13 227.8v3.6M538.05 376.6v-3.6M538.05 227.8v3.6M543.42 376.6v-3.6M543.42 227.8v3.6M547.81 376.6v-3.6M547.81 227.8v3.6M551.52 376.6v-3.6M551.52 227.8v3.6M554.73 376.6v-3.6M554.73 227.8v3.6M557.57 376.6v-3.6M557.57 227.8v3.6M560.1 376.6v-7.0M560.1 227.8v7.0M576.78 376.6v-3.6M576.78 227.8v3.6M586.53 376.6v-3.6M586.53 227.8v3.6M593.45 376.6v-3.6M593.45 227.8v3.6M598.82 376.6v-3.6M598.82 227.8v3.6M603.21 376.6v-3.6M603.21 227.8v3.6M606.92 376.6v-3.6M606.92 227.8v3.6M610.13 376.6v-3.6M610.13 227.8v3.6M612.97 376.6v-3.6M612.97 227.8v3.6M615.5 376.6v-7.0M615.5 227.8v7.0M632.18 376.6v-3.6M632.18 227.8v3.6M641.93 376.6v-3.6M641.93 227.8v3.6" fill="none" stroke="#808080" stroke-width="1"/>
<rect x="651.6" y="227.8" width="68" height="148.8" fill="none" stroke="#808080" stroke-width="1.1"/>
<path d="M651.6 372.8h3.6M719.6 372.8h-3.6M651.6 369.2h3.6M719.6 369.2h-3.6M651.6 366.25h3.6M719.6 366.25h-3.6M651.6 363.76h3.6M719.6 363.76h-3.6M651.6 361.61h3.6M719.6 361.61h-3.6M651.6 359.7h3.6M719.6 359.7h-3.6M651.6 358h7.0M719.6 358h-7.0M651.6 346.8h3.6M719.6 346.8h-3.6M651.6 340.25h3.6M719.6 340.25h-3.6M651.6 335.6h3.6M719.6 335.6h-3.6M651.6 332h3.6M719.6 332h-3.6M651.6 329.05h3.6M719.6 329.05h-3.6M651.6 326.56h3.6M719.6 326.56h-3.6M651.6 324.41h3.6M719.6 324.41h-3.6M651.6 322.5h3.6M719.6 322.5h-3.6M651.6 320.8h7.0M719.6 320.8h-7.0M651.6 309.6h3.6M719.6 309.6h-3.6M651.6 303.05h3.6M719.6 303.05h-3.6M651.6 298.4h3.6M719.6 298.4h-3.6M651.6 294.8h3.6M719.6 294.8h-3.6M651.6 291.85h3.6M719.6 291.85h-3.6M651.6 289.36h3.6M719.6 289.36h-3.6M651.6 287.21h3.6M719.6 287.21h-3.6M651.6 285.3h3.6M719.6 285.3h-3.6M651.6 283.6h7.0M719.6 283.6h-7.0M651.6 272.4h3.6M719.6 272.4h-3.6M651.6 265.85h3.6M719.6 265.85h-3.6M651.6 261.2h3.6M719.6 261.2h-3.6M651.6 257.6h3.6M719.6 257.6h-3.6M651.6 254.65h3.6M719.6 254.65h-3.6M651.6 252.16h3.6M719.6 252.16h-3.6M651.6 250.01h3.6M719.6 250.01h-3.6M651.6 248.1h3.6M719.6 248.1h-3.6M651.6 246.4h7.0M719.6 246.4h-7.0M651.6 235.2h3.6M719.6 235.2h-3.6M651.6 228.65h3.6M719.6 228.65h-3.6M651.6 376.6v-7.0M651.6 227.8v7.0M654.69 376.6v-3.6M654.69 227.8v3.6M657.78 376.6v-3.6M657.78 227.8v3.6M660.87 376.6v-3.6M660.87 227.8v3.6M663.96 376.6v-3.6M663.96 227.8v3.6M667.05 376.6v-3.6M667.05 227.8v3.6M670.15 376.6v-3.6M670.15 227.8v3.6M673.24 376.6v-3.6M673.24 227.8v3.6M676.33 376.6v-3.6M676.33 227.8v3.6M679.42 376.6v-3.6M679.42 227.8v3.6M682.51 376.6v-7.0M682.51 227.8v7.0M685.6 376.6v-3.6M685.6 227.8v3.6M688.69 376.6v-3.6M688.69 227.8v3.6M691.78 376.6v-3.6M691.78 227.8v3.6M694.87 376.6v-3.6M694.87 227.8v3.6M697.96 376.6v-3.6M697.96 227.8v3.6M701.05 376.6v-3.6M701.05 227.8v3.6M704.15 376.6v-3.6M704.15 227.8v3.6M707.24 376.6v-3.6M707.24 227.8v3.6M710.33 376.6v-3.6M710.33 227.8v3.6M713.42 376.6v-7.0M713.42 227.8v7.0M716.51 376.6v-3.6M716.51 227.8v3.6M719.6 376.6v-3.6M719.6 227.8v3.6" fill="none" stroke="#808080" stroke-width="1"/>
<path d="M651.60 270.54H653.79V272.40H654.48V274.26H656.56V276.12H658.15V277.98H656.99V279.84H657.10V281.70H661.10V283.56H659.12V285.42H663.71V287.28H672.19V289.14H672.49V291.00H662.39V292.86H663.98V294.72H668.10V296.58H679.51V298.44H667.24V300.30H671.13V302.16H666.07V304.02H662.08V305.88H662.70V307.74H657.53V309.60H654.67V311.46H652.74V313.32H651.60" fill="none" stroke="#222" stroke-opacity="0.8" stroke-width="1.5"/>
<path d="M651.60 271.51H652.91V273.37H652.96V275.23H653.70V277.09H653.77V278.95H654.51V280.81H653.81V282.67H654.54V284.53H656.59V286.39H659.75V288.25H659.94V290.11H660.62V291.97H660.41V293.83H661.07V295.69H660.93V297.55H667.84V299.41H667.58V301.27H670.21V303.13H669.46V304.99H677.21V306.85H674.91V308.71H674.76V310.57H662.88V312.43H659.32V314.29H655.51V316.15H652.66V318.01H651.60" fill="none" stroke="#DC143C" stroke-opacity="0.7" stroke-width="1.5"/>
<line x1="651.6" y1="298.5" x2="719.6" y2="298.5" stroke="#1a1a9c" stroke-width="1.5"/>
<line x1="651.6" y1="305.3" x2="719.6" y2="305.3" stroke="#ff1414" stroke-width="1.5"/>
<line x1="709.0" y1="290.1" x2="709.0" y2="304.5" stroke="#000" stroke-width="1.8"/>
<line x1="712.2" y1="298.1" x2="712.2" y2="309.6" stroke="#ff1414" stroke-width="1.8"/>
<text transform="translate(415.2,252.4) scale(0.9,1)" font-size="13.2" text-anchor="end">10<tspan font-size="7.6" dy="-7.6">2</tspan></text>
<text transform="translate(415.2,289.6) scale(0.9,1)" font-size="13.2" text-anchor="end">10<tspan font-size="7.6" dy="-7.6">1</tspan></text>
<text transform="translate(415.2,326.8) scale(0.9,1)" font-size="13.2" text-anchor="end">10<tspan font-size="7.6" dy="-7.6">0</tspan></text>
<text transform="translate(415.2,364) scale(0.9,1)" font-size="13.2" text-anchor="end">10<tspan font-size="7.6" dy="-7.6">-1</tspan></text>
<text transform="translate(449.8,393.4) scale(0.9,1)" font-size="13.2" text-anchor="middle">10<tspan font-size="7.6" dy="-7.6">-2</tspan></text>
<text transform="translate(505.2,393.4) scale(0.9,1)" font-size="13.2" text-anchor="middle">10<tspan font-size="7.6" dy="-7.6">-1</tspan></text>
<text transform="translate(560.6,393.4) scale(0.9,1)" font-size="13.2" text-anchor="middle">10<tspan font-size="7.6" dy="-7.6">0</tspan></text>
<text transform="translate(616,393.4) scale(0.9,1)" font-size="13.2" text-anchor="middle">10<tspan font-size="7.6" dy="-7.6">1</tspan></text>
<text x="651.6" y="389.2" font-size="13.4" text-anchor="middle" >0.0</text>
<text x="682.51" y="389.2" font-size="13.4" text-anchor="middle" >0.1</text>
<text x="713.42" y="389.2" font-size="13.4" text-anchor="middle" >0.2</text>
<text x="532.2" y="406.2" font-size="13.6" text-anchor="middle" font-family="Liberation Sans" font-style="italic" style="stroke-width:0.45px">β</text>
<text x="685.6" y="401.8" font-size="14" text-anchor="middle" textLength="95" lengthAdjust="spacingAndGlyphs">Probability density</text>
<text transform="translate(385.2,301.5) rotate(-90)" font-size="12.8" text-anchor="middle">k<tspan font-size="8.8" dy="3.2" font-style="italic">ρ</tspan><tspan dy="-3.2"> / k</tspan><tspan font-size="8.8" dy="3.2">b</tspan></text>
<text transform="translate(430,243) scale(0.95,1)" font-size="12.4">(g) SR k<tspan font-size="9.2" dy="2.6" font-style="italic">ρ</tspan><tspan dy="-2.6" dx="1.6" font-size="13.4">/</tspan><tspan dx="0.6">k</tspan><tspan font-size="9" dy="2.6">b</tspan></text>
<text transform="translate(659.6,242.8) scale(0.95,1)" font-size="12.4">(h)</text>
<circle cx="439" cy="7" r="2.1" fill="#708090"/>
<circle cx="439" cy="24.9" r="2.1" fill="#DC143C"/>
<text x="443.8" y="11.8" font-size="11.5">Upstream k<tspan font-size="8.6" dy="2.8" font-style="italic">ρ</tspan><tspan dy="-2.8" dx="1.0" font-size="13"> /</tspan><tspan dx="1.0"> k</tspan><tspan font-size="8.6" dy="2.8">b</tspan></text>
<text x="443.8" y="29.7" font-size="11.5">Downstream k<tspan font-size="8.6" dy="2.8" font-style="italic">ρ</tspan><tspan dy="-2.8" dx="1.0" font-size="13"> /</tspan><tspan dx="1.0"> k</tspan><tspan font-size="8.6" dy="2.8">b</tspan></text>
<line x1="649.3" y1="9.8" x2="663.9" y2="9.8" stroke="#000" stroke-width="1.7"/>
<line x1="649.3" y1="22" x2="663.9" y2="22" stroke="#DC143C" stroke-opacity="0.9" stroke-width="1.7"/>
<text x="665.8" y="13.6" font-size="11.75">Upstream</text>
<text x="665.8" y="25.5" font-size="11.75">Downstream</text>
</svg></body></html>
